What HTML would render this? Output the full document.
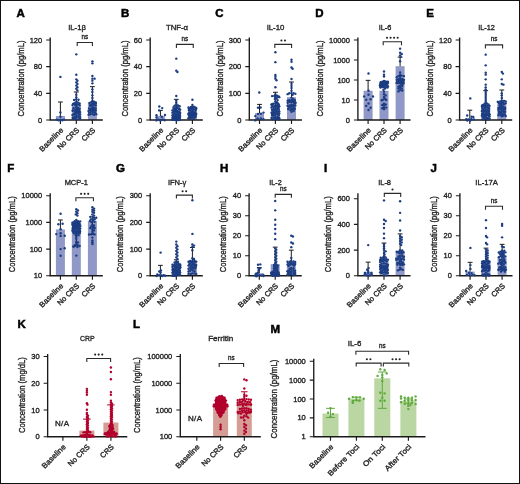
<!DOCTYPE html>
<html><head><meta charset="utf-8"><title>Cytokine levels</title>
<style>
html,body{margin:0;padding:0;background:#fff;}
body{width:520px;height:484px;overflow:hidden;}
svg{display:block;font-family:"Liberation Sans",sans-serif;will-change:transform;}
svg text{fill:#262626;}
svg .st{letter-spacing:-0.6px;}
svg text.lt{fill:#000;stroke:#000;stroke-width:0.5px;}
svg text{stroke:#262626;stroke-width:0.36px;}
</style></head><body>
<svg width="520" height="484" viewBox="0 0 520 484">
<rect x="0.5" y="0.5" width="519" height="483" fill="#fff" stroke="#111" stroke-width="1"/>
<text x="16.4" y="16.6" font-size="11.5" text-anchor="start" font-weight="bold" fill="#000" class="lt">A</text>
<text x="77.03" y="29.5" font-size="8" text-anchor="middle" textLength="17.65" lengthAdjust="spacingAndGlyphs">IL-1β</text>
<rect x="55.9" y="116" width="9" height="4" fill="#8f98c6"/>
<rect x="71.8" y="106" width="9" height="14" fill="#8f98c6"/>
<rect x="87.9" y="102.33" width="9" height="17.67" fill="#8f98c6"/>
<path d="M50.2 37.5V120H102.8" stroke="#1a1a1a" stroke-width="1.35" fill="none"/>
<path d="M46.2 120H50.2M46.2 93.33H50.2M46.2 66.67H50.2M46.2 40H50.2M60.4 120V124M76.3 120V124M92.4 120V124" stroke="#1a1a1a" stroke-width="1.15" fill="none"/>
<text x="42.2" y="122.6" font-size="7.5" text-anchor="end" class="tk">0</text>
<text x="42.2" y="95.93" font-size="7.5" text-anchor="end" class="tk">40</text>
<text x="42.2" y="69.27" font-size="7.5" text-anchor="end" class="tk">80</text>
<text x="42.2" y="42.6" font-size="7.5" text-anchor="end" class="tk">120</text>
<path d="M60.4 116V102M58 102h4.8" stroke="#1a1a1a" stroke-width="1" fill="none"/>
<path d="M76.3 106V92M73.9 92h4.8" stroke="#1a1a1a" stroke-width="1" fill="none"/>
<path d="M92.4 102.33V86.67M90 86.67h4.8" stroke="#1a1a1a" stroke-width="1" fill="none"/>
<g fill="#1c3d82">
<circle cx="76.3" cy="54.33" r="1.2"/>
<circle cx="76.3" cy="74.8" r="1.2"/>
<circle cx="76.3" cy="79.33" r="1.2"/>
<circle cx="77.4" cy="80.8" r="1.2"/>
<circle cx="76.3" cy="82.4" r="1.2"/>
<circle cx="77.4" cy="84" r="1.2"/>
<circle cx="76.3" cy="85.6" r="1.2"/>
<circle cx="77.4" cy="87.2" r="1.2"/>
<circle cx="76.3" cy="88.8" r="1.2"/>
<circle cx="77.4" cy="90.4" r="1.2"/>
<circle cx="76.3" cy="94.67" r="1.2"/>
<circle cx="76.3" cy="97.33" r="1.2"/>
<circle cx="76.3" cy="99.41" r="1.2"/>
<circle cx="78.5" cy="99.71" r="1.2"/>
<circle cx="74.1" cy="99.92" r="1.2"/>
<circle cx="76.3" cy="101.88" r="1.2"/>
<circle cx="77.95" cy="102.56" r="1.2"/>
<circle cx="74.65" cy="102.84" r="1.2"/>
<circle cx="79.6" cy="103.46" r="1.2"/>
<circle cx="76.3" cy="103.94" r="1.2"/>
<circle cx="73" cy="104.02" r="1.2"/>
<circle cx="74.41" cy="104.13" r="1.2"/>
<circle cx="77.95" cy="104.57" r="1.2"/>
<circle cx="72.51" cy="105.09" r="1.2"/>
<circle cx="79.6" cy="105.21" r="1.2"/>
<circle cx="75.31" cy="105.27" r="1.2"/>
<circle cx="76.62" cy="106.05" r="1.2"/>
<circle cx="75.75" cy="107.64" r="1.2"/>
<circle cx="77.95" cy="107.98" r="1.2"/>
<circle cx="73.55" cy="108.13" r="1.2"/>
<circle cx="79.6" cy="108.68" r="1.2"/>
<circle cx="76.78" cy="109.08" r="1.2"/>
<circle cx="77.47" cy="109.16" r="1.2"/>
<circle cx="75.2" cy="110.08" r="1.2"/>
<circle cx="79.05" cy="110.37" r="1.2"/>
<circle cx="73" cy="110.42" r="1.2"/>
<circle cx="72.65" cy="110.75" r="1.2"/>
<circle cx="76.85" cy="110.9" r="1.2"/>
<circle cx="78.4" cy="111.01" r="1.2"/>
<circle cx="77.08" cy="111.18" r="1.2"/>
<circle cx="75.2" cy="111.9" r="1.2"/>
<circle cx="80.15" cy="112.12" r="1.2"/>
<circle cx="79.2" cy="112.19" r="1.2"/>
<circle cx="77.23" cy="112.21" r="1.2"/>
<circle cx="76.3" cy="113.67" r="1.2"/>
<circle cx="78.5" cy="113.87" r="1.2"/>
<circle cx="74.1" cy="114.01" r="1.2"/>
<circle cx="74.1" cy="114.01" r="1.2"/>
<circle cx="74.6" cy="114.03" r="1.2"/>
<circle cx="74.02" cy="114.1" r="1.2"/>
<circle cx="80.15" cy="114.57" r="1.2"/>
<circle cx="72.45" cy="115" r="1.2"/>
<circle cx="76.3" cy="115.74" r="1.2"/>
<circle cx="78.5" cy="115.82" r="1.2"/>
<circle cx="74.65" cy="116.75" r="1.2"/>
<circle cx="80.15" cy="116.94" r="1.2"/>
<circle cx="76.3" cy="117.55" r="1.2"/>
<circle cx="78.5" cy="117.55" r="1.2"/>
<circle cx="73" cy="117.8" r="1.2"/>
<circle cx="72.75" cy="118.06" r="1.2"/>
<circle cx="74.65" cy="118.58" r="1.2"/>
<circle cx="74.19" cy="118.6" r="1.2"/>
<circle cx="80.15" cy="118.76" r="1.2"/>
<circle cx="76.3" cy="119.33" r="1.2"/>
<circle cx="92.4" cy="61.33" r="1.2"/>
<circle cx="92.4" cy="63.33" r="1.2"/>
<circle cx="92.4" cy="76" r="1.2"/>
<circle cx="92.4" cy="78.67" r="1.2"/>
<circle cx="94.6" cy="78.67" r="1.2"/>
<circle cx="92.4" cy="80.67" r="1.2"/>
<circle cx="92.4" cy="83.33" r="1.2"/>
<circle cx="92.4" cy="89.33" r="1.2"/>
<circle cx="92.4" cy="92" r="1.2"/>
<circle cx="92.4" cy="95.33" r="1.2"/>
<circle cx="92.4" cy="98" r="1.2"/>
<circle cx="92.4" cy="100.67" r="1.2"/>
<circle cx="94.05" cy="101.73" r="1.2"/>
<circle cx="91.3" cy="102.12" r="1.2"/>
<circle cx="95.7" cy="102.35" r="1.2"/>
<circle cx="89.65" cy="103.03" r="1.2"/>
<circle cx="92.95" cy="103.2" r="1.2"/>
<circle cx="95.79" cy="103.4" r="1.2"/>
<circle cx="94.19" cy="103.68" r="1.2"/>
<circle cx="91.85" cy="104.57" r="1.2"/>
<circle cx="90.2" cy="105.24" r="1.2"/>
<circle cx="93.5" cy="105.31" r="1.2"/>
<circle cx="95.7" cy="105.46" r="1.2"/>
<circle cx="90.33" cy="105.73" r="1.2"/>
<circle cx="92.4" cy="107.02" r="1.2"/>
<circle cx="94.05" cy="107.93" r="1.2"/>
<circle cx="91.3" cy="108.43" r="1.2"/>
<circle cx="95.7" cy="108.53" r="1.2"/>
<circle cx="89.1" cy="108.56" r="1.2"/>
<circle cx="92.77" cy="108.61" r="1.2"/>
<circle cx="92.06" cy="109.64" r="1.2"/>
<circle cx="94.05" cy="109.89" r="1.2"/>
<circle cx="90.2" cy="109.9" r="1.2"/>
<circle cx="91.95" cy="110.16" r="1.2"/>
<circle cx="95.7" cy="110.46" r="1.2"/>
<circle cx="88.55" cy="110.93" r="1.2"/>
<circle cx="92.95" cy="111.73" r="1.2"/>
<circle cx="90.75" cy="112.07" r="1.2"/>
<circle cx="94.6" cy="112.37" r="1.2"/>
<circle cx="89.1" cy="112.65" r="1.2"/>
<circle cx="95.21" cy="112.67" r="1.2"/>
<circle cx="92.4" cy="114.05" r="1.2"/>
<circle cx="90.2" cy="114.24" r="1.2"/>
<circle cx="96.25" cy="114.29" r="1.2"/>
<circle cx="94.05" cy="114.78" r="1.2"/>
<circle cx="88.55" cy="114.83" r="1.2"/>
<circle cx="60.4" cy="76.9" r="1.2"/>
<circle cx="60.4" cy="112.4" r="1.2"/>
<circle cx="60.4" cy="116.8" r="1.2"/>
<circle cx="56.8" cy="119.8" r="1.2"/>
<circle cx="58.6" cy="120.2" r="1.2"/>
<circle cx="60.4" cy="120" r="1.2"/>
<circle cx="62.3" cy="120.2" r="1.2"/>
<circle cx="64.2" cy="119.8" r="1.2"/>
</g>
<text x="23.7" y="78.5" font-size="9.5" text-anchor="middle" textLength="76" lengthAdjust="spacingAndGlyphs" transform="rotate(-90 23.7 78.5)">Concentration (pg/mL)</text>
<text x="63.8" y="130.6" font-size="7.5" text-anchor="end" textLength="30.6" lengthAdjust="spacingAndGlyphs" transform="rotate(-45 63.8 130.6)">Baseline</text>
<text x="79.7" y="130.6" font-size="7.5" text-anchor="end" transform="rotate(-45 79.7 130.6)">No CRS</text>
<text x="95.8" y="130.6" font-size="7.5" text-anchor="end" transform="rotate(-45 95.8 130.6)">CRS</text>
<path d="M77.2 46V42.5H92.4V46" stroke="#2a2a2a" stroke-width="1.1" fill="none"/>
<text x="84.8" y="38.7" font-size="6.9" text-anchor="middle" textLength="6.6" lengthAdjust="spacingAndGlyphs">ns</text>
<text x="121.1" y="16.6" font-size="11.5" text-anchor="start" font-weight="bold" fill="#000" class="lt">B</text>
<text x="177" y="29.6" font-size="8" text-anchor="middle" textLength="22.2" lengthAdjust="spacingAndGlyphs">TNF-α</text>
<rect x="155.9" y="116" width="9" height="4" fill="#8f98c6"/>
<rect x="171.8" y="110.67" width="9" height="9.33" fill="#8f98c6"/>
<rect x="187.9" y="112" width="9" height="8" fill="#8f98c6"/>
<path d="M150.2 37.5V120H202.8" stroke="#1a1a1a" stroke-width="1.35" fill="none"/>
<path d="M146.2 120H150.2M146.2 93.33H150.2M146.2 66.67H150.2M146.2 40H150.2M160.4 120V124M176.3 120V124M192.4 120V124" stroke="#1a1a1a" stroke-width="1.15" fill="none"/>
<text x="142.2" y="122.6" font-size="7.5" text-anchor="end" class="tk">0</text>
<text x="142.2" y="95.93" font-size="7.5" text-anchor="end" class="tk">20</text>
<text x="142.2" y="69.27" font-size="7.5" text-anchor="end" class="tk">40</text>
<text x="142.2" y="42.6" font-size="7.5" text-anchor="end" class="tk">60</text>
<path d="M160.4 116V110.4M158 110.4h4.8" stroke="#1a1a1a" stroke-width="1" fill="none"/>
<path d="M176.3 110.67V99.33M173.9 99.33h4.8" stroke="#1a1a1a" stroke-width="1" fill="none"/>
<path d="M192.4 112V106.67M190 106.67h4.8" stroke="#1a1a1a" stroke-width="1" fill="none"/>
<g fill="#1c3d82">
<circle cx="176.3" cy="58.67" r="1.2"/>
<circle cx="176.3" cy="70.67" r="1.2"/>
<circle cx="177.4" cy="72" r="1.2"/>
<circle cx="176.3" cy="96" r="1.2"/>
<circle cx="176.3" cy="100.67" r="1.2"/>
<circle cx="176.3" cy="102.67" r="1.2"/>
<circle cx="176.3" cy="104.4" r="1.2"/>
<circle cx="177.95" cy="105.57" r="1.2"/>
<circle cx="174.65" cy="105.59" r="1.2"/>
<circle cx="176.3" cy="106.14" r="1.2"/>
<circle cx="179.6" cy="106.26" r="1.2"/>
<circle cx="173.55" cy="107.08" r="1.2"/>
<circle cx="177.4" cy="107.78" r="1.2"/>
<circle cx="175.2" cy="108.15" r="1.2"/>
<circle cx="179.05" cy="108.37" r="1.2"/>
<circle cx="173.55" cy="108.81" r="1.2"/>
<circle cx="175.13" cy="108.93" r="1.2"/>
<circle cx="178.49" cy="109.1" r="1.2"/>
<circle cx="175.59" cy="109.48" r="1.2"/>
<circle cx="180.15" cy="109.79" r="1.2"/>
<circle cx="175.45" cy="109.98" r="1.2"/>
<circle cx="172.45" cy="110.37" r="1.2"/>
<circle cx="177.4" cy="110.86" r="1.2"/>
<circle cx="176.04" cy="110.96" r="1.2"/>
<circle cx="174.1" cy="111.09" r="1.2"/>
<circle cx="176.45" cy="111.28" r="1.2"/>
<circle cx="179.05" cy="111.64" r="1.2"/>
<circle cx="174.12" cy="111.82" r="1.2"/>
<circle cx="176.44" cy="112" r="1.2"/>
<circle cx="172.45" cy="112.64" r="1.2"/>
<circle cx="177.57" cy="112.83" r="1.2"/>
<circle cx="180.15" cy="113.01" r="1.2"/>
<circle cx="175.2" cy="113.41" r="1.2"/>
<circle cx="179.59" cy="113.72" r="1.2"/>
<circle cx="173.55" cy="114.09" r="1.2"/>
<circle cx="178.32" cy="114.11" r="1.2"/>
<circle cx="176.14" cy="114.48" r="1.2"/>
<circle cx="178.13" cy="114.93" r="1.2"/>
<circle cx="176" cy="115" r="1.2"/>
<circle cx="179.84" cy="115.32" r="1.2"/>
<circle cx="172.45" cy="115.57" r="1.2"/>
<circle cx="179.49" cy="115.61" r="1.2"/>
<circle cx="175.38" cy="115.95" r="1.2"/>
<circle cx="174.62" cy="115.95" r="1.2"/>
<circle cx="174.06" cy="116.14" r="1.2"/>
<circle cx="173.3" cy="116.42" r="1.2"/>
<circle cx="178.32" cy="116.48" r="1.2"/>
<circle cx="176.06" cy="116.61" r="1.2"/>
<circle cx="180.08" cy="116.63" r="1.2"/>
<circle cx="177.6" cy="116.64" r="1.2"/>
<circle cx="177.05" cy="117.1" r="1.2"/>
<circle cx="179.8" cy="117.63" r="1.2"/>
<circle cx="174.65" cy="117.84" r="1.2"/>
<circle cx="172.45" cy="117.94" r="1.2"/>
<circle cx="175.87" cy="118.12" r="1.2"/>
<circle cx="175.43" cy="118.5" r="1.2"/>
<circle cx="179.04" cy="118.56" r="1.2"/>
<circle cx="178.58" cy="118.6" r="1.2"/>
<circle cx="173.93" cy="118.8" r="1.2"/>
<circle cx="179.23" cy="118.84" r="1.2"/>
<circle cx="177.87" cy="118.85" r="1.2"/>
<circle cx="175.35" cy="118.87" r="1.2"/>
<circle cx="177.38" cy="118.93" r="1.2"/>
<circle cx="175.72" cy="119.08" r="1.2"/>
<circle cx="177.77" cy="119.08" r="1.2"/>
<circle cx="179.21" cy="119.1" r="1.2"/>
<circle cx="174.73" cy="119.45" r="1.2"/>
<circle cx="172.67" cy="119.48" r="1.2"/>
<circle cx="173.11" cy="119.52" r="1.2"/>
<circle cx="177.93" cy="119.64" r="1.2"/>
<circle cx="173.3" cy="119.82" r="1.2"/>
<circle cx="179.08" cy="119.83" r="1.2"/>
<circle cx="174.37" cy="119.87" r="1.2"/>
<circle cx="177.8" cy="119.87" r="1.2"/>
<circle cx="178.93" cy="119.88" r="1.2"/>
<circle cx="172.82" cy="119.88" r="1.2"/>
<circle cx="176.42" cy="119.9" r="1.2"/>
<circle cx="180.1" cy="119.9" r="1.2"/>
<circle cx="176.13" cy="119.92" r="1.2"/>
<circle cx="175.57" cy="119.93" r="1.2"/>
<circle cx="178.86" cy="119.93" r="1.2"/>
<circle cx="177.57" cy="119.99" r="1.2"/>
<circle cx="192.4" cy="99.73" r="1.2"/>
<circle cx="192.4" cy="104.93" r="1.2"/>
<circle cx="192.4" cy="106.71" r="1.2"/>
<circle cx="194.6" cy="107.06" r="1.2"/>
<circle cx="190.75" cy="107.35" r="1.2"/>
<circle cx="188.55" cy="107.57" r="1.2"/>
<circle cx="196.25" cy="107.89" r="1.2"/>
<circle cx="193.02" cy="108.12" r="1.2"/>
<circle cx="193.13" cy="108.18" r="1.2"/>
<circle cx="190.15" cy="108.26" r="1.2"/>
<circle cx="191.07" cy="108.68" r="1.2"/>
<circle cx="195.81" cy="108.78" r="1.2"/>
<circle cx="195.83" cy="108.83" r="1.2"/>
<circle cx="188.86" cy="108.91" r="1.2"/>
<circle cx="196.14" cy="109.01" r="1.2"/>
<circle cx="189.91" cy="109.47" r="1.2"/>
<circle cx="194.05" cy="109.66" r="1.2"/>
<circle cx="190.44" cy="109.68" r="1.2"/>
<circle cx="189.25" cy="109.79" r="1.2"/>
<circle cx="192.54" cy="109.81" r="1.2"/>
<circle cx="189.33" cy="110.29" r="1.2"/>
<circle cx="190.33" cy="110.34" r="1.2"/>
<circle cx="188.96" cy="110.54" r="1.2"/>
<circle cx="195.7" cy="110.83" r="1.2"/>
<circle cx="192.4" cy="111.68" r="1.2"/>
<circle cx="193.4" cy="111.68" r="1.2"/>
<circle cx="191.28" cy="111.95" r="1.2"/>
<circle cx="195.15" cy="112.5" r="1.2"/>
<circle cx="189.65" cy="112.6" r="1.2"/>
<circle cx="194.48" cy="112.97" r="1.2"/>
<circle cx="190.07" cy="113.29" r="1.2"/>
<circle cx="192.4" cy="113.42" r="1.2"/>
<circle cx="194.11" cy="113.75" r="1.2"/>
<circle cx="188.41" cy="113.81" r="1.2"/>
<circle cx="196.25" cy="113.9" r="1.2"/>
<circle cx="195.66" cy="114.03" r="1.2"/>
<circle cx="195.02" cy="114.1" r="1.2"/>
<circle cx="190.02" cy="114.39" r="1.2"/>
<circle cx="191.63" cy="114.43" r="1.2"/>
<circle cx="189.24" cy="114.54" r="1.2"/>
<circle cx="193.39" cy="114.59" r="1.2"/>
<circle cx="190.25" cy="114.63" r="1.2"/>
<circle cx="188.64" cy="114.67" r="1.2"/>
<circle cx="192.35" cy="115.06" r="1.2"/>
<circle cx="191.38" cy="115.13" r="1.2"/>
<circle cx="193.91" cy="115.37" r="1.2"/>
<circle cx="191.06" cy="115.46" r="1.2"/>
<circle cx="195.7" cy="116.07" r="1.2"/>
<circle cx="194.97" cy="116.31" r="1.2"/>
<circle cx="189.65" cy="116.5" r="1.2"/>
<circle cx="192.4" cy="116.88" r="1.2"/>
<circle cx="189.68" cy="117.01" r="1.2"/>
<circle cx="195.08" cy="117.15" r="1.2"/>
<circle cx="190.37" cy="117.6" r="1.2"/>
<circle cx="190.97" cy="117.84" r="1.2"/>
<circle cx="193.5" cy="118.22" r="1.2"/>
<circle cx="188.48" cy="118.29" r="1.2"/>
<circle cx="159.3" cy="106.5" r="1.2"/>
<circle cx="162.2" cy="108.1" r="1.2"/>
<circle cx="159.2" cy="110.4" r="1.2"/>
<circle cx="156.5" cy="115.2" r="1.2"/>
<circle cx="165" cy="115" r="1.2"/>
<circle cx="156.5" cy="117.5" r="1.2"/>
<circle cx="161.8" cy="116.8" r="1.2"/>
<circle cx="156.5" cy="120.4" r="1.2"/>
<circle cx="160.4" cy="120.4" r="1.2"/>
<circle cx="164.7" cy="120.2" r="1.2"/>
<circle cx="158.4" cy="119.6" r="1.2"/>
<circle cx="162.5" cy="119.6" r="1.2"/>
</g>
<text x="127.5" y="78.5" font-size="9.5" text-anchor="middle" textLength="76" lengthAdjust="spacingAndGlyphs" transform="rotate(-90 127.5 78.5)">Concentration (pg/mL)</text>
<text x="163.8" y="130.6" font-size="7.5" text-anchor="end" textLength="30.6" lengthAdjust="spacingAndGlyphs" transform="rotate(-45 163.8 130.6)">Baseline</text>
<text x="179.7" y="130.6" font-size="7.5" text-anchor="end" transform="rotate(-45 179.7 130.6)">No CRS</text>
<text x="195.8" y="130.6" font-size="7.5" text-anchor="end" transform="rotate(-45 195.8 130.6)">CRS</text>
<path d="M176.4 47.9V44.4H193.25V47.9" stroke="#2a2a2a" stroke-width="1.1" fill="none"/>
<text x="184.82" y="40.6" font-size="6.9" text-anchor="middle" textLength="6.6" lengthAdjust="spacingAndGlyphs">ns</text>
<text x="215.2" y="16.6" font-size="11.5" text-anchor="start" font-weight="bold" fill="#000" class="lt">C</text>
<text x="275.5" y="29.5" font-size="8" text-anchor="middle" textLength="17.7" lengthAdjust="spacingAndGlyphs">IL-10</text>
<rect x="255" y="113.2" width="9" height="6.8" fill="#8f98c6"/>
<rect x="270.9" y="105.2" width="9" height="14.8" fill="#8f98c6"/>
<rect x="287" y="97.2" width="9" height="22.8" fill="#8f98c6"/>
<path d="M249.3 37.5V120H301.9" stroke="#1a1a1a" stroke-width="1.35" fill="none"/>
<path d="M245.3 120H249.3M245.3 93.33H249.3M245.3 66.67H249.3M245.3 40H249.3M259.5 120V124M275.4 120V124M291.5 120V124" stroke="#1a1a1a" stroke-width="1.15" fill="none"/>
<text x="241.3" y="122.6" font-size="7.5" text-anchor="end" class="tk">0</text>
<text x="241.3" y="95.93" font-size="7.5" text-anchor="end" class="tk">100</text>
<text x="241.3" y="69.27" font-size="7.5" text-anchor="end" class="tk">200</text>
<text x="241.3" y="42.6" font-size="7.5" text-anchor="end" class="tk">300</text>
<path d="M259.5 113.2V104.4M257.1 104.4h4.8" stroke="#1a1a1a" stroke-width="1" fill="none"/>
<path d="M275.4 105.2V92.27M273 92.27h4.8" stroke="#1a1a1a" stroke-width="1" fill="none"/>
<path d="M291.5 97.2V82M289.1 82h4.8" stroke="#1a1a1a" stroke-width="1" fill="none"/>
<g fill="#1c3d82">
<circle cx="275.4" cy="52.27" r="1.2"/>
<circle cx="275.4" cy="62.13" r="1.2"/>
<circle cx="275.4" cy="74.93" r="1.2"/>
<circle cx="275.4" cy="76.8" r="1.2"/>
<circle cx="275.4" cy="78.67" r="1.2"/>
<circle cx="276.5" cy="80.27" r="1.2"/>
<circle cx="275.4" cy="87.2" r="1.2"/>
<circle cx="275.4" cy="94.4" r="1.2"/>
<circle cx="277.05" cy="95.58" r="1.2"/>
<circle cx="274.3" cy="96.02" r="1.2"/>
<circle cx="272.1" cy="96.09" r="1.2"/>
<circle cx="278.7" cy="96.55" r="1.2"/>
<circle cx="277.46" cy="96.91" r="1.2"/>
<circle cx="275.42" cy="97.16" r="1.2"/>
<circle cx="279.25" cy="97.17" r="1.2"/>
<circle cx="276.5" cy="98.57" r="1.2"/>
<circle cx="274.85" cy="99.1" r="1.2"/>
<circle cx="277.6" cy="100.11" r="1.2"/>
<circle cx="275.4" cy="101.52" r="1.2"/>
<circle cx="277.05" cy="102.13" r="1.2"/>
<circle cx="275.4" cy="103.42" r="1.2"/>
<circle cx="273.2" cy="103.75" r="1.2"/>
<circle cx="277.6" cy="103.79" r="1.2"/>
<circle cx="277.37" cy="103.82" r="1.2"/>
<circle cx="278.24" cy="103.87" r="1.2"/>
<circle cx="271.55" cy="104.35" r="1.2"/>
<circle cx="272.23" cy="104.55" r="1.2"/>
<circle cx="278.04" cy="104.55" r="1.2"/>
<circle cx="278.66" cy="104.58" r="1.2"/>
<circle cx="271.72" cy="104.79" r="1.2"/>
<circle cx="275.4" cy="105.27" r="1.2"/>
<circle cx="272.29" cy="105.68" r="1.2"/>
<circle cx="277.05" cy="106.21" r="1.2"/>
<circle cx="279.25" cy="106.32" r="1.2"/>
<circle cx="275.45" cy="106.32" r="1.2"/>
<circle cx="278.05" cy="106.36" r="1.2"/>
<circle cx="273.75" cy="106.76" r="1.2"/>
<circle cx="277.49" cy="106.93" r="1.2"/>
<circle cx="271.55" cy="107.38" r="1.2"/>
<circle cx="278.48" cy="107.52" r="1.2"/>
<circle cx="275.4" cy="108.09" r="1.2"/>
<circle cx="277.05" cy="108.85" r="1.2"/>
<circle cx="273.75" cy="109.14" r="1.2"/>
<circle cx="278.7" cy="109.55" r="1.2"/>
<circle cx="272.1" cy="109.79" r="1.2"/>
<circle cx="275.4" cy="110.3" r="1.2"/>
<circle cx="275.05" cy="110.54" r="1.2"/>
<circle cx="277.05" cy="111.29" r="1.2"/>
<circle cx="273.2" cy="111.46" r="1.2"/>
<circle cx="279.25" cy="111.49" r="1.2"/>
<circle cx="275.4" cy="112.68" r="1.2"/>
<circle cx="271.55" cy="112.71" r="1.2"/>
<circle cx="274.11" cy="112.78" r="1.2"/>
<circle cx="277.6" cy="112.96" r="1.2"/>
<circle cx="272.77" cy="113.34" r="1.2"/>
<circle cx="279.25" cy="113.52" r="1.2"/>
<circle cx="277.16" cy="113.89" r="1.2"/>
<circle cx="275.4" cy="114.74" r="1.2"/>
<circle cx="272.1" cy="114.99" r="1.2"/>
<circle cx="278.74" cy="115.14" r="1.2"/>
<circle cx="273.23" cy="115.2" r="1.2"/>
<circle cx="272.46" cy="115.2" r="1.2"/>
<circle cx="273.55" cy="115.25" r="1.2"/>
<circle cx="275.4" cy="116.93" r="1.2"/>
<circle cx="277.6" cy="117" r="1.2"/>
<circle cx="273.75" cy="117.78" r="1.2"/>
<circle cx="279.25" cy="117.88" r="1.2"/>
<circle cx="271.55" cy="118.06" r="1.2"/>
<circle cx="277.75" cy="118.09" r="1.2"/>
<circle cx="278.31" cy="118.2" r="1.2"/>
<circle cx="279.09" cy="118.47" r="1.2"/>
<circle cx="275.4" cy="118.78" r="1.2"/>
<circle cx="276.27" cy="118.95" r="1.2"/>
<circle cx="272.65" cy="119.4" r="1.2"/>
<circle cx="279.36" cy="119.69" r="1.2"/>
<circle cx="291.5" cy="59.73" r="1.2"/>
<circle cx="291.5" cy="61.87" r="1.2"/>
<circle cx="291.5" cy="67.47" r="1.2"/>
<circle cx="292.6" cy="68.8" r="1.2"/>
<circle cx="291.5" cy="78.93" r="1.2"/>
<circle cx="291.5" cy="83.73" r="1.2"/>
<circle cx="291.5" cy="85.87" r="1.2"/>
<circle cx="291.5" cy="88" r="1.2"/>
<circle cx="291.5" cy="90.67" r="1.2"/>
<circle cx="291.5" cy="93.08" r="1.2"/>
<circle cx="293.7" cy="93.1" r="1.2"/>
<circle cx="289.3" cy="93.18" r="1.2"/>
<circle cx="295.35" cy="93.85" r="1.2"/>
<circle cx="287.65" cy="94.13" r="1.2"/>
<circle cx="292.6" cy="94.68" r="1.2"/>
<circle cx="291.5" cy="97.64" r="1.2"/>
<circle cx="293.15" cy="98.9" r="1.2"/>
<circle cx="291.5" cy="100.09" r="1.2"/>
<circle cx="289.3" cy="100.14" r="1.2"/>
<circle cx="294.8" cy="100.17" r="1.2"/>
<circle cx="292.9" cy="100.35" r="1.2"/>
<circle cx="287.65" cy="100.77" r="1.2"/>
<circle cx="289.79" cy="101.13" r="1.2"/>
<circle cx="293.33" cy="101.42" r="1.2"/>
<circle cx="293.56" cy="101.69" r="1.2"/>
<circle cx="289.37" cy="101.77" r="1.2"/>
<circle cx="291.5" cy="102.19" r="1.2"/>
<circle cx="295.35" cy="102.44" r="1.2"/>
<circle cx="287.65" cy="102.86" r="1.2"/>
<circle cx="294.32" cy="102.99" r="1.2"/>
<circle cx="295.44" cy="103.04" r="1.2"/>
<circle cx="291.5" cy="104.78" r="1.2"/>
<circle cx="293.7" cy="104.94" r="1.2"/>
<circle cx="289.85" cy="105.39" r="1.2"/>
<circle cx="295.35" cy="105.53" r="1.2"/>
<circle cx="287.65" cy="105.65" r="1.2"/>
<circle cx="287.93" cy="105.95" r="1.2"/>
<circle cx="291.98" cy="106.05" r="1.2"/>
<circle cx="290.77" cy="106.66" r="1.2"/>
<circle cx="293.7" cy="107.18" r="1.2"/>
<circle cx="289.3" cy="107.58" r="1.2"/>
<circle cx="291.5" cy="108.72" r="1.2"/>
<circle cx="294.8" cy="108.77" r="1.2"/>
<circle cx="288.2" cy="108.99" r="1.2"/>
<circle cx="293.15" cy="109.41" r="1.2"/>
<circle cx="292.46" cy="109.5" r="1.2"/>
<circle cx="290.4" cy="110.07" r="1.2"/>
<circle cx="293.7" cy="111.12" r="1.2"/>
<circle cx="291.5" cy="111.68" r="1.2"/>
<circle cx="259.3" cy="92.5" r="1.2"/>
<circle cx="258" cy="107.7" r="1.2"/>
<circle cx="260.6" cy="107.5" r="1.2"/>
<circle cx="263.5" cy="112.6" r="1.2"/>
<circle cx="258" cy="113.9" r="1.2"/>
<circle cx="260.9" cy="113.7" r="1.2"/>
<circle cx="255.3" cy="116.1" r="1.2"/>
<circle cx="257.6" cy="118.5" r="1.2"/>
<circle cx="260.9" cy="118.5" r="1.2"/>
<circle cx="255.3" cy="120.4" r="1.2"/>
<circle cx="263.5" cy="119.3" r="1.2"/>
</g>
<text x="223.25" y="78.5" font-size="9.5" text-anchor="middle" textLength="76" lengthAdjust="spacingAndGlyphs" transform="rotate(-90 223.25 78.5)">Concentration (pg/mL)</text>
<text x="262.9" y="130.6" font-size="7.5" text-anchor="end" textLength="30.6" lengthAdjust="spacingAndGlyphs" transform="rotate(-45 262.9 130.6)">Baseline</text>
<text x="278.8" y="130.6" font-size="7.5" text-anchor="end" transform="rotate(-45 278.8 130.6)">No CRS</text>
<text x="294.9" y="130.6" font-size="7.5" text-anchor="end" transform="rotate(-45 294.9 130.6)">CRS</text>
<path d="M274.8 47.9V44.4H291.6V47.9" stroke="#2a2a2a" stroke-width="1.1" fill="none"/>
<circle cx="281.43" cy="40.5" r="1.05" fill="#222"/>
<circle cx="284.98" cy="40.5" r="1.05" fill="#222"/>
<text x="315.2" y="16.6" font-size="11.5" text-anchor="start" font-weight="bold" fill="#000" class="lt">D</text>
<text x="385" y="29.5" font-size="8" text-anchor="middle" textLength="12.7" lengthAdjust="spacingAndGlyphs">IL-6</text>
<rect x="363.6" y="90.75" width="9" height="29.25" fill="#8f98c6"/>
<rect x="379.5" y="90.75" width="9" height="29.25" fill="#8f98c6"/>
<rect x="395.6" y="66.2" width="9" height="53.8" fill="#8f98c6"/>
<path d="M357.9 37.5V120H410.5" stroke="#1a1a1a" stroke-width="1.35" fill="none"/>
<path d="M353.9 120H357.9M353.9 100H357.9M353.9 80H357.9M353.9 60H357.9M353.9 40H357.9M368.1 120V124M384 120V124M400.1 120V124" stroke="#1a1a1a" stroke-width="1.15" fill="none"/>
<text x="349.9" y="122.6" font-size="7.5" text-anchor="end" class="tk">0</text>
<text x="349.9" y="102.6" font-size="7.5" text-anchor="end" class="tk">10</text>
<text x="349.9" y="82.6" font-size="7.5" text-anchor="end" class="tk">100</text>
<text x="349.9" y="62.6" font-size="7.5" text-anchor="end" class="tk">1000</text>
<text x="349.9" y="42.6" font-size="7.5" text-anchor="end" class="tk">10000</text>
<path d="M368.1 90.75V80.35M365.7 80.35h4.8" stroke="#1a1a1a" stroke-width="1" fill="none"/>
<path d="M400.1 66.2V57.08M397.7 57.08h4.8" stroke="#1a1a1a" stroke-width="1" fill="none"/>
<g fill="#1c3d82">
<circle cx="384" cy="71.44" r="1.2"/>
<circle cx="384" cy="74.7" r="1.2"/>
<circle cx="384" cy="76.48" r="1.2"/>
<circle cx="384" cy="80.83" r="1.2"/>
<circle cx="385.65" cy="81.52" r="1.2"/>
<circle cx="382.35" cy="81.58" r="1.2"/>
<circle cx="387.85" cy="81.72" r="1.2"/>
<circle cx="380.7" cy="82.21" r="1.2"/>
<circle cx="386.36" cy="82.33" r="1.2"/>
<circle cx="385.63" cy="82.33" r="1.2"/>
<circle cx="386.28" cy="82.33" r="1.2"/>
<circle cx="384.98" cy="82.43" r="1.2"/>
<circle cx="383.02" cy="82.51" r="1.2"/>
<circle cx="387.5" cy="82.54" r="1.2"/>
<circle cx="388" cy="82.74" r="1.2"/>
<circle cx="386.04" cy="82.75" r="1.2"/>
<circle cx="386.4" cy="83.01" r="1.2"/>
<circle cx="383.46" cy="83.1" r="1.2"/>
<circle cx="383.86" cy="83.14" r="1.2"/>
<circle cx="381.94" cy="83.22" r="1.2"/>
<circle cx="380.6" cy="83.43" r="1.2"/>
<circle cx="386.24" cy="83.48" r="1.2"/>
<circle cx="381.92" cy="83.51" r="1.2"/>
<circle cx="381.64" cy="83.65" r="1.2"/>
<circle cx="381.46" cy="83.77" r="1.2"/>
<circle cx="382.86" cy="83.84" r="1.2"/>
<circle cx="380.79" cy="83.95" r="1.2"/>
<circle cx="384.33" cy="83.97" r="1.2"/>
<circle cx="384.58" cy="84.04" r="1.2"/>
<circle cx="383.62" cy="84.39" r="1.2"/>
<circle cx="387.14" cy="84.45" r="1.2"/>
<circle cx="380.25" cy="84.58" r="1.2"/>
<circle cx="383.02" cy="84.67" r="1.2"/>
<circle cx="385.23" cy="84.73" r="1.2"/>
<circle cx="386.13" cy="85.07" r="1.2"/>
<circle cx="380.02" cy="85.22" r="1.2"/>
<circle cx="384.49" cy="85.26" r="1.2"/>
<circle cx="384.83" cy="85.35" r="1.2"/>
<circle cx="381.74" cy="85.37" r="1.2"/>
<circle cx="383.11" cy="85.37" r="1.2"/>
<circle cx="382.71" cy="85.48" r="1.2"/>
<circle cx="381.03" cy="85.53" r="1.2"/>
<circle cx="380.93" cy="85.91" r="1.2"/>
<circle cx="387.85" cy="86.2" r="1.2"/>
<circle cx="380.87" cy="86.24" r="1.2"/>
<circle cx="380.43" cy="86.67" r="1.2"/>
<circle cx="384" cy="86.93" r="1.2"/>
<circle cx="386.2" cy="86.98" r="1.2"/>
<circle cx="382.24" cy="87" r="1.2"/>
<circle cx="387.53" cy="87.43" r="1.2"/>
<circle cx="380.49" cy="87.53" r="1.2"/>
<circle cx="385.1" cy="88.55" r="1.2"/>
<circle cx="383.45" cy="89.74" r="1.2"/>
<circle cx="384" cy="91.67" r="1.2"/>
<circle cx="384" cy="94.16" r="1.2"/>
<circle cx="385.65" cy="95.41" r="1.2"/>
<circle cx="384" cy="97.07" r="1.2"/>
<circle cx="385.1" cy="98.66" r="1.2"/>
<circle cx="383.45" cy="99.45" r="1.2"/>
<circle cx="386.2" cy="100.04" r="1.2"/>
<circle cx="381.8" cy="100.2" r="1.2"/>
<circle cx="384" cy="103.71" r="1.2"/>
<circle cx="385.65" cy="104.47" r="1.2"/>
<circle cx="382.35" cy="104.94" r="1.2"/>
<circle cx="384" cy="105.47" r="1.2"/>
<circle cx="384" cy="107.42" r="1.2"/>
<circle cx="386.2" cy="107.59" r="1.2"/>
<circle cx="382.35" cy="108.16" r="1.2"/>
<circle cx="384" cy="109.17" r="1.2"/>
<circle cx="400.1" cy="48.64" r="1.2"/>
<circle cx="400.1" cy="52.77" r="1.2"/>
<circle cx="401.75" cy="53.98" r="1.2"/>
<circle cx="400.1" cy="55.39" r="1.2"/>
<circle cx="400.65" cy="57.08" r="1.2"/>
<circle cx="400.1" cy="61.21" r="1.2"/>
<circle cx="400.1" cy="72.53" r="1.2"/>
<circle cx="400.1" cy="74.95" r="1.2"/>
<circle cx="401.75" cy="75.6" r="1.2"/>
<circle cx="398.45" cy="76.08" r="1.2"/>
<circle cx="403.95" cy="76.09" r="1.2"/>
<circle cx="400.1" cy="76.85" r="1.2"/>
<circle cx="396.8" cy="77.14" r="1.2"/>
<circle cx="400.1" cy="78.74" r="1.2"/>
<circle cx="402.3" cy="79.06" r="1.2"/>
<circle cx="398.45" cy="79.27" r="1.2"/>
<circle cx="396.8" cy="79.81" r="1.2"/>
<circle cx="403.95" cy="79.84" r="1.2"/>
<circle cx="402.03" cy="79.95" r="1.2"/>
<circle cx="400.1" cy="80.52" r="1.2"/>
<circle cx="399.15" cy="80.71" r="1.2"/>
<circle cx="399.83" cy="81.04" r="1.2"/>
<circle cx="401.54" cy="81.19" r="1.2"/>
<circle cx="397.35" cy="81.62" r="1.2"/>
<circle cx="403.4" cy="81.62" r="1.2"/>
<circle cx="402.47" cy="81.64" r="1.2"/>
<circle cx="398.29" cy="81.71" r="1.2"/>
<circle cx="399.57" cy="81.82" r="1.2"/>
<circle cx="399.37" cy="81.83" r="1.2"/>
<circle cx="397.88" cy="82.05" r="1.2"/>
<circle cx="397.3" cy="82.28" r="1.2"/>
<circle cx="401.2" cy="82.92" r="1.2"/>
<circle cx="396.45" cy="83.12" r="1.2"/>
<circle cx="403.55" cy="83.15" r="1.2"/>
<circle cx="398.67" cy="83.17" r="1.2"/>
<circle cx="400.74" cy="83.41" r="1.2"/>
<circle cx="402.52" cy="83.43" r="1.2"/>
<circle cx="402.39" cy="84.04" r="1.2"/>
<circle cx="401.49" cy="84.08" r="1.2"/>
<circle cx="400.1" cy="85.83" r="1.2"/>
<circle cx="402.3" cy="85.9" r="1.2"/>
<circle cx="398.45" cy="86.59" r="1.2"/>
<circle cx="400.1" cy="87.57" r="1.2"/>
<circle cx="401.75" cy="88.33" r="1.2"/>
<circle cx="398.45" cy="88.46" r="1.2"/>
<circle cx="400.1" cy="90.08" r="1.2"/>
<circle cx="402.3" cy="90.57" r="1.2"/>
<circle cx="398.45" cy="91.38" r="1.2"/>
<circle cx="368.5" cy="73.5" r="1.2"/>
<circle cx="368.5" cy="90.7" r="1.2"/>
<circle cx="364.1" cy="96.4" r="1.2"/>
<circle cx="368.5" cy="94.7" r="1.2"/>
<circle cx="373" cy="96.5" r="1.2"/>
<circle cx="366.2" cy="99.8" r="1.2"/>
<circle cx="370.6" cy="99.3" r="1.2"/>
<circle cx="368.5" cy="103.5" r="1.2"/>
<circle cx="366.2" cy="105.9" r="1.2"/>
<circle cx="370.6" cy="107.7" r="1.2"/>
<circle cx="368.5" cy="110" r="1.2"/>
</g>
<text x="323.25" y="78.5" font-size="9.5" text-anchor="middle" textLength="76" lengthAdjust="spacingAndGlyphs" transform="rotate(-90 323.25 78.5)">Concentration (pg/mL)</text>
<text x="371.5" y="130.6" font-size="7.5" text-anchor="end" textLength="30.6" lengthAdjust="spacingAndGlyphs" transform="rotate(-45 371.5 130.6)">Baseline</text>
<text x="387.4" y="130.6" font-size="7.5" text-anchor="end" transform="rotate(-45 387.4 130.6)">No CRS</text>
<text x="403.5" y="130.6" font-size="7.5" text-anchor="end" transform="rotate(-45 403.5 130.6)">CRS</text>
<path d="M383.2 45.2V41.7H401.5V45.2" stroke="#2a2a2a" stroke-width="1.1" fill="none"/>
<circle cx="387.03" cy="37.8" r="1.05" fill="#222"/>
<circle cx="390.58" cy="37.8" r="1.05" fill="#222"/>
<circle cx="394.12" cy="37.8" r="1.05" fill="#222"/>
<circle cx="397.68" cy="37.8" r="1.05" fill="#222"/>
<text x="426.2" y="16.6" font-size="11.5" text-anchor="start" font-weight="bold" fill="#000" class="lt">E</text>
<text x="486.5" y="29.5" font-size="8" text-anchor="middle" textLength="16.7" lengthAdjust="spacingAndGlyphs">IL-12</text>
<rect x="465.3" y="118.67" width="9" height="1.33" fill="#8f98c6"/>
<rect x="481.2" y="105.33" width="9" height="14.67" fill="#8f98c6"/>
<rect x="497.3" y="104" width="9" height="16" fill="#8f98c6"/>
<path d="M459.6 37.5V120H512.2" stroke="#1a1a1a" stroke-width="1.35" fill="none"/>
<path d="M455.6 120H459.6M455.6 93.33H459.6M455.6 66.67H459.6M455.6 40H459.6M469.8 120V124M485.7 120V124M501.8 120V124" stroke="#1a1a1a" stroke-width="1.15" fill="none"/>
<text x="451.6" y="122.6" font-size="7.5" text-anchor="end" class="tk">0</text>
<text x="451.6" y="95.93" font-size="7.5" text-anchor="end" class="tk">40</text>
<text x="451.6" y="69.27" font-size="7.5" text-anchor="end" class="tk">80</text>
<text x="451.6" y="42.6" font-size="7.5" text-anchor="end" class="tk">120</text>
<path d="M469.8 118.67V110.2M467.4 110.2h4.8" stroke="#1a1a1a" stroke-width="1" fill="none"/>
<path d="M485.7 105.33V90.67M483.3 90.67h4.8" stroke="#1a1a1a" stroke-width="1" fill="none"/>
<path d="M501.8 104V90M499.4 90h4.8" stroke="#1a1a1a" stroke-width="1" fill="none"/>
<g fill="#1c3d82">
<circle cx="485.7" cy="54.67" r="1.2"/>
<circle cx="485.7" cy="65.33" r="1.2"/>
<circle cx="485.7" cy="72.67" r="1.2"/>
<circle cx="485.7" cy="74.67" r="1.2"/>
<circle cx="485.7" cy="79.33" r="1.2"/>
<circle cx="485.7" cy="84.67" r="1.2"/>
<circle cx="485.7" cy="87.33" r="1.2"/>
<circle cx="485.7" cy="89.33" r="1.2"/>
<circle cx="485.7" cy="92" r="1.2"/>
<circle cx="485.7" cy="94" r="1.2"/>
<circle cx="485.7" cy="96" r="1.2"/>
<circle cx="485.7" cy="98" r="1.2"/>
<circle cx="485.7" cy="100" r="1.2"/>
<circle cx="485.7" cy="102" r="1.2"/>
<circle cx="486.8" cy="103.38" r="1.2"/>
<circle cx="484.6" cy="103.7" r="1.2"/>
<circle cx="488.45" cy="104.5" r="1.2"/>
<circle cx="482.95" cy="105.01" r="1.2"/>
<circle cx="485.7" cy="105.18" r="1.2"/>
<circle cx="482.16" cy="105.38" r="1.2"/>
<circle cx="487.36" cy="105.65" r="1.2"/>
<circle cx="485.42" cy="105.8" r="1.2"/>
<circle cx="489.55" cy="105.86" r="1.2"/>
<circle cx="484.19" cy="105.96" r="1.2"/>
<circle cx="483.8" cy="106.26" r="1.2"/>
<circle cx="481.97" cy="106.57" r="1.2"/>
<circle cx="486.25" cy="107.41" r="1.2"/>
<circle cx="488.45" cy="107.54" r="1.2"/>
<circle cx="487.59" cy="107.62" r="1.2"/>
<circle cx="484.6" cy="108.02" r="1.2"/>
<circle cx="482.4" cy="108.53" r="1.2"/>
<circle cx="489.06" cy="108.78" r="1.2"/>
<circle cx="485.7" cy="109.59" r="1.2"/>
<circle cx="483.5" cy="109.94" r="1.2"/>
<circle cx="487.35" cy="110.12" r="1.2"/>
<circle cx="489" cy="110.99" r="1.2"/>
<circle cx="481.85" cy="111.06" r="1.2"/>
<circle cx="485.15" cy="111.24" r="1.2"/>
<circle cx="486.8" cy="111.82" r="1.2"/>
<circle cx="483.5" cy="112.02" r="1.2"/>
<circle cx="488.45" cy="112.63" r="1.2"/>
<circle cx="488.34" cy="112.67" r="1.2"/>
<circle cx="485.7" cy="113.48" r="1.2"/>
<circle cx="482.4" cy="113.64" r="1.2"/>
<circle cx="483.29" cy="113.69" r="1.2"/>
<circle cx="482.12" cy="113.84" r="1.2"/>
<circle cx="485.63" cy="113.96" r="1.2"/>
<circle cx="489.55" cy="114.15" r="1.2"/>
<circle cx="487.35" cy="114.64" r="1.2"/>
<circle cx="488.07" cy="114.76" r="1.2"/>
<circle cx="483.87" cy="115.12" r="1.2"/>
<circle cx="485.73" cy="115.31" r="1.2"/>
<circle cx="483.92" cy="115.33" r="1.2"/>
<circle cx="486.24" cy="115.5" r="1.2"/>
<circle cx="481.85" cy="115.65" r="1.2"/>
<circle cx="484.18" cy="115.82" r="1.2"/>
<circle cx="489.55" cy="116.12" r="1.2"/>
<circle cx="489.08" cy="116.27" r="1.2"/>
<circle cx="485.7" cy="117.21" r="1.2"/>
<circle cx="482.95" cy="117.33" r="1.2"/>
<circle cx="487.35" cy="118.15" r="1.2"/>
<circle cx="489.55" cy="118.54" r="1.2"/>
<circle cx="487.53" cy="118.54" r="1.2"/>
<circle cx="484.6" cy="118.55" r="1.2"/>
<circle cx="482.95" cy="119.45" r="1.2"/>
<circle cx="488.16" cy="119.69" r="1.2"/>
<circle cx="501.8" cy="72" r="1.2"/>
<circle cx="502.9" cy="73.6" r="1.2"/>
<circle cx="501.8" cy="79.33" r="1.2"/>
<circle cx="501.8" cy="84" r="1.2"/>
<circle cx="503.45" cy="84.67" r="1.2"/>
<circle cx="501.8" cy="93.33" r="1.2"/>
<circle cx="501.8" cy="95.33" r="1.2"/>
<circle cx="501.8" cy="98" r="1.2"/>
<circle cx="501.8" cy="100.79" r="1.2"/>
<circle cx="504" cy="100.86" r="1.2"/>
<circle cx="500.15" cy="101.37" r="1.2"/>
<circle cx="505.65" cy="101.44" r="1.2"/>
<circle cx="497.95" cy="101.85" r="1.2"/>
<circle cx="497.89" cy="101.96" r="1.2"/>
<circle cx="502.9" cy="102.33" r="1.2"/>
<circle cx="503.5" cy="102.81" r="1.2"/>
<circle cx="501.25" cy="102.86" r="1.2"/>
<circle cx="499.05" cy="103.25" r="1.2"/>
<circle cx="505.65" cy="103.33" r="1.2"/>
<circle cx="503.84" cy="103.93" r="1.2"/>
<circle cx="500.98" cy="104" r="1.2"/>
<circle cx="503.3" cy="104.08" r="1.2"/>
<circle cx="499.6" cy="105.4" r="1.2"/>
<circle cx="501.8" cy="106.01" r="1.2"/>
<circle cx="503.45" cy="106.72" r="1.2"/>
<circle cx="500.15" cy="107.17" r="1.2"/>
<circle cx="505.1" cy="107.7" r="1.2"/>
<circle cx="501.8" cy="107.84" r="1.2"/>
<circle cx="498.5" cy="108.04" r="1.2"/>
<circle cx="503.45" cy="108.83" r="1.2"/>
<circle cx="500.15" cy="108.92" r="1.2"/>
<circle cx="504.97" cy="109.28" r="1.2"/>
<circle cx="501.8" cy="109.76" r="1.2"/>
<circle cx="498.5" cy="109.81" r="1.2"/>
<circle cx="503.45" cy="110.96" r="1.2"/>
<circle cx="501.25" cy="111.43" r="1.2"/>
<circle cx="499.05" cy="111.46" r="1.2"/>
<circle cx="505.1" cy="111.81" r="1.2"/>
<circle cx="503.49" cy="112.11" r="1.2"/>
<circle cx="500.7" cy="112.75" r="1.2"/>
<circle cx="499.05" cy="113.32" r="1.2"/>
<circle cx="502.35" cy="114.02" r="1.2"/>
<circle cx="504.55" cy="114.17" r="1.2"/>
<circle cx="500.7" cy="114.98" r="1.2"/>
<circle cx="498.5" cy="115.32" r="1.2"/>
<circle cx="503.45" cy="115.53" r="1.2"/>
<circle cx="505.65" cy="116.01" r="1.2"/>
<circle cx="501.89" cy="116.26" r="1.2"/>
<circle cx="470.3" cy="98.4" r="1.2"/>
<circle cx="467.2" cy="115.5" r="1.2"/>
<circle cx="471.6" cy="116.8" r="1.2"/>
<circle cx="473.3" cy="117" r="1.2"/>
<circle cx="466.3" cy="119.2" r="1.2"/>
<circle cx="468.6" cy="119.5" r="1.2"/>
<circle cx="471.3" cy="119.2" r="1.2"/>
<circle cx="473.9" cy="119.5" r="1.2"/>
<circle cx="467.3" cy="120.5" r="1.2"/>
<circle cx="470.3" cy="120.5" r="1.2"/>
</g>
<text x="433.2" y="78.5" font-size="9.5" text-anchor="middle" textLength="76" lengthAdjust="spacingAndGlyphs" transform="rotate(-90 433.2 78.5)">Concentration (pg/mL)</text>
<text x="473.2" y="130.6" font-size="7.5" text-anchor="end" textLength="30.6" lengthAdjust="spacingAndGlyphs" transform="rotate(-45 473.2 130.6)">Baseline</text>
<text x="489.1" y="130.6" font-size="7.5" text-anchor="end" transform="rotate(-45 489.1 130.6)">No CRS</text>
<text x="505.2" y="130.6" font-size="7.5" text-anchor="end" transform="rotate(-45 505.2 130.6)">CRS</text>
<path d="M485.4 48.4V44.9H502.6V48.4" stroke="#2a2a2a" stroke-width="1.1" fill="none"/>
<text x="494" y="41.1" font-size="6.9" text-anchor="middle" textLength="6.6" lengthAdjust="spacingAndGlyphs">ns</text>
<text x="7.3" y="172" font-size="11.5" text-anchor="start" font-weight="bold" fill="#000" class="lt">F</text>
<text x="76.25" y="184.9" font-size="8" text-anchor="middle" textLength="23.2" lengthAdjust="spacingAndGlyphs">MCP-1</text>
<rect x="55.9" y="229.45" width="9" height="46.3" fill="#8f98c6"/>
<rect x="71.8" y="229.77" width="9" height="45.98" fill="#8f98c6"/>
<rect x="87.9" y="220.8" width="9" height="54.95" fill="#8f98c6"/>
<path d="M50.2 193.25V275.75H102.8" stroke="#1a1a1a" stroke-width="1.35" fill="none"/>
<path d="M46.2 275.75H50.2M46.2 249.08H50.2M46.2 222.42H50.2M46.2 195.75H50.2M60.4 275.75V279.75M76.3 275.75V279.75M92.4 275.75V279.75" stroke="#1a1a1a" stroke-width="1.15" fill="none"/>
<text x="42.2" y="278.35" font-size="7.5" text-anchor="end" class="tk">10</text>
<text x="42.2" y="251.68" font-size="7.5" text-anchor="end" class="tk">100</text>
<text x="42.2" y="225.02" font-size="7.5" text-anchor="end" class="tk">1000</text>
<text x="42.2" y="198.35" font-size="7.5" text-anchor="end" class="tk">10000</text>
<path d="M60.4 229.45V219.97M58 219.97h4.8" stroke="#1a1a1a" stroke-width="1" fill="none"/>
<path d="M76.3 244.94V229.77M73.9 244.94h4.8" stroke="#1a1a1a" stroke-width="1" fill="none"/>
<path d="M92.4 234.57V220.8M90 234.57h4.8" stroke="#1a1a1a" stroke-width="1" fill="none"/>
<g fill="#1c3d82">
<circle cx="76.3" cy="209.31" r="1.2"/>
<circle cx="77.95" cy="210.49" r="1.2"/>
<circle cx="76.3" cy="211.8" r="1.2"/>
<circle cx="77.4" cy="213.29" r="1.2"/>
<circle cx="75.75" cy="214.39" r="1.2"/>
<circle cx="77.4" cy="215.61" r="1.2"/>
<circle cx="76.3" cy="219.95" r="1.2"/>
<circle cx="77.95" cy="221.09" r="1.2"/>
<circle cx="74.65" cy="221.14" r="1.2"/>
<circle cx="80.15" cy="221.33" r="1.2"/>
<circle cx="76.3" cy="222.11" r="1.2"/>
<circle cx="73.55" cy="222.51" r="1.2"/>
<circle cx="78.32" cy="222.51" r="1.2"/>
<circle cx="75.58" cy="222.56" r="1.2"/>
<circle cx="72.47" cy="222.6" r="1.2"/>
<circle cx="78.48" cy="223.04" r="1.2"/>
<circle cx="76.54" cy="223.2" r="1.2"/>
<circle cx="75.12" cy="223.21" r="1.2"/>
<circle cx="78.02" cy="223.22" r="1.2"/>
<circle cx="79.53" cy="223.37" r="1.2"/>
<circle cx="77.92" cy="223.89" r="1.2"/>
<circle cx="72.52" cy="223.94" r="1.2"/>
<circle cx="72.88" cy="224.37" r="1.2"/>
<circle cx="78.4" cy="224.51" r="1.2"/>
<circle cx="73.39" cy="224.79" r="1.2"/>
<circle cx="76.67" cy="224.82" r="1.2"/>
<circle cx="75.13" cy="224.85" r="1.2"/>
<circle cx="80.15" cy="225.12" r="1.2"/>
<circle cx="77.23" cy="225.15" r="1.2"/>
<circle cx="72.83" cy="225.15" r="1.2"/>
<circle cx="75.69" cy="225.25" r="1.2"/>
<circle cx="78.82" cy="225.28" r="1.2"/>
<circle cx="76.03" cy="225.68" r="1.2"/>
<circle cx="78.37" cy="225.88" r="1.2"/>
<circle cx="77.87" cy="225.88" r="1.2"/>
<circle cx="80.13" cy="226.28" r="1.2"/>
<circle cx="74.64" cy="226.34" r="1.2"/>
<circle cx="75.54" cy="226.47" r="1.2"/>
<circle cx="76.19" cy="226.55" r="1.2"/>
<circle cx="78.61" cy="226.81" r="1.2"/>
<circle cx="73" cy="226.9" r="1.2"/>
<circle cx="78.82" cy="227.04" r="1.2"/>
<circle cx="72.96" cy="227.11" r="1.2"/>
<circle cx="76.35" cy="227.19" r="1.2"/>
<circle cx="75.51" cy="227.21" r="1.2"/>
<circle cx="76.69" cy="227.24" r="1.2"/>
<circle cx="76.46" cy="227.33" r="1.2"/>
<circle cx="75.54" cy="227.76" r="1.2"/>
<circle cx="80.15" cy="228.36" r="1.2"/>
<circle cx="72.75" cy="228.49" r="1.2"/>
<circle cx="77.95" cy="228.65" r="1.2"/>
<circle cx="73.09" cy="228.65" r="1.2"/>
<circle cx="74.46" cy="228.81" r="1.2"/>
<circle cx="73.64" cy="228.97" r="1.2"/>
<circle cx="78.17" cy="228.99" r="1.2"/>
<circle cx="79.46" cy="229.19" r="1.2"/>
<circle cx="76.3" cy="229.58" r="1.2"/>
<circle cx="74.17" cy="229.68" r="1.2"/>
<circle cx="78.9" cy="230.23" r="1.2"/>
<circle cx="72.45" cy="230.41" r="1.2"/>
<circle cx="79.78" cy="230.66" r="1.2"/>
<circle cx="78.71" cy="231.01" r="1.2"/>
<circle cx="79.76" cy="231.06" r="1.2"/>
<circle cx="76.3" cy="231.35" r="1.2"/>
<circle cx="74.1" cy="231.47" r="1.2"/>
<circle cx="80.08" cy="231.55" r="1.2"/>
<circle cx="77.34" cy="231.76" r="1.2"/>
<circle cx="73" cy="231.82" r="1.2"/>
<circle cx="75.79" cy="232.52" r="1.2"/>
<circle cx="79.05" cy="232.95" r="1.2"/>
<circle cx="79.84" cy="232.97" r="1.2"/>
<circle cx="74.1" cy="233.36" r="1.2"/>
<circle cx="77.4" cy="233.55" r="1.2"/>
<circle cx="75.75" cy="234.88" r="1.2"/>
<circle cx="78.5" cy="235.17" r="1.2"/>
<circle cx="76.3" cy="236.7" r="1.2"/>
<circle cx="76.3" cy="238.86" r="1.2"/>
<circle cx="76.3" cy="241.91" r="1.2"/>
<circle cx="77.95" cy="242.55" r="1.2"/>
<circle cx="76.3" cy="244.29" r="1.2"/>
<circle cx="77.4" cy="245.64" r="1.2"/>
<circle cx="75.2" cy="245.87" r="1.2"/>
<circle cx="79.6" cy="245.93" r="1.2"/>
<circle cx="73.55" cy="246.47" r="1.2"/>
<circle cx="73.65" cy="246.52" r="1.2"/>
<circle cx="77.43" cy="246.94" r="1.2"/>
<circle cx="76.3" cy="255.59" r="1.2"/>
<circle cx="92.4" cy="207.26" r="1.2"/>
<circle cx="94.05" cy="208.59" r="1.2"/>
<circle cx="92.4" cy="209.69" r="1.2"/>
<circle cx="94.05" cy="210.49" r="1.2"/>
<circle cx="92.4" cy="211.8" r="1.2"/>
<circle cx="94.05" cy="212.77" r="1.2"/>
<circle cx="92.4" cy="214.39" r="1.2"/>
<circle cx="94.05" cy="215.61" r="1.2"/>
<circle cx="92.4" cy="216.74" r="1.2"/>
<circle cx="90.2" cy="216.87" r="1.2"/>
<circle cx="94.05" cy="217.61" r="1.2"/>
<circle cx="96.25" cy="217.77" r="1.2"/>
<circle cx="92.4" cy="218.83" r="1.2"/>
<circle cx="94.6" cy="219.31" r="1.2"/>
<circle cx="90.75" cy="219.39" r="1.2"/>
<circle cx="92.95" cy="220.55" r="1.2"/>
<circle cx="90.2" cy="221.05" r="1.2"/>
<circle cx="94.6" cy="221.84" r="1.2"/>
<circle cx="91.85" cy="222.15" r="1.2"/>
<circle cx="92.4" cy="224.84" r="1.2"/>
<circle cx="94.05" cy="225.56" r="1.2"/>
<circle cx="91.3" cy="226.33" r="1.2"/>
<circle cx="92.95" cy="226.97" r="1.2"/>
<circle cx="94.6" cy="227.9" r="1.2"/>
<circle cx="90.2" cy="227.96" r="1.2"/>
<circle cx="94.43" cy="228.11" r="1.2"/>
<circle cx="92.4" cy="229.15" r="1.2"/>
<circle cx="94.05" cy="230.42" r="1.2"/>
<circle cx="92.4" cy="231.8" r="1.2"/>
<circle cx="92.95" cy="233.44" r="1.2"/>
<circle cx="91.3" cy="234.26" r="1.2"/>
<circle cx="94.6" cy="234.42" r="1.2"/>
<circle cx="89.1" cy="234.46" r="1.2"/>
<circle cx="92.4" cy="237.58" r="1.2"/>
<circle cx="92.4" cy="240.49" r="1.2"/>
<circle cx="92.4" cy="242.28" r="1.2"/>
<circle cx="92.4" cy="244.01" r="1.2"/>
<circle cx="60.6" cy="213.7" r="1.2"/>
<circle cx="58.4" cy="224.3" r="1.2"/>
<circle cx="62.6" cy="223.7" r="1.2"/>
<circle cx="60.6" cy="229.2" r="1.2"/>
<circle cx="56.3" cy="234.1" r="1.2"/>
<circle cx="60.6" cy="233.3" r="1.2"/>
<circle cx="60.6" cy="235.9" r="1.2"/>
<circle cx="64.7" cy="235.7" r="1.2"/>
<circle cx="60.6" cy="249.1" r="1.2"/>
<circle cx="64.7" cy="248.3" r="1.2"/>
<circle cx="60.6" cy="255.7" r="1.2"/>
</g>
<text x="14.65" y="234.25" font-size="9.5" text-anchor="middle" textLength="76" lengthAdjust="spacingAndGlyphs" transform="rotate(-90 14.65 234.25)">Concentration (pg/mL)</text>
<text x="63.8" y="286.35" font-size="7.5" text-anchor="end" textLength="30.6" lengthAdjust="spacingAndGlyphs" transform="rotate(-45 63.8 286.35)">Baseline</text>
<text x="79.7" y="286.35" font-size="7.5" text-anchor="end" transform="rotate(-45 79.7 286.35)">No CRS</text>
<text x="95.8" y="286.35" font-size="7.5" text-anchor="end" transform="rotate(-45 95.8 286.35)">CRS</text>
<path d="M75.9 201.25V197.75H93.4V201.25" stroke="#2a2a2a" stroke-width="1.1" fill="none"/>
<circle cx="81.1" cy="193.85" r="1.05" fill="#222"/>
<circle cx="84.65" cy="193.85" r="1.05" fill="#222"/>
<circle cx="88.2" cy="193.85" r="1.05" fill="#222"/>
<text x="116" y="172" font-size="11.5" text-anchor="start" font-weight="bold" fill="#000" class="lt">G</text>
<text x="177.12" y="184.9" font-size="8" text-anchor="middle" textLength="18.45" lengthAdjust="spacingAndGlyphs">IFN-γ</text>
<rect x="155.9" y="274.68" width="9" height="1.07" fill="#8f98c6"/>
<rect x="171.8" y="269.08" width="9" height="6.67" fill="#8f98c6"/>
<rect x="187.9" y="260.82" width="9" height="14.93" fill="#8f98c6"/>
<path d="M150.2 193.25V275.75H202.8" stroke="#1a1a1a" stroke-width="1.35" fill="none"/>
<path d="M146.2 275.75H150.2M146.2 249.08H150.2M146.2 222.42H150.2M146.2 195.75H150.2M160.4 275.75V279.75M176.3 275.75V279.75M192.4 275.75V279.75" stroke="#1a1a1a" stroke-width="1.15" fill="none"/>
<text x="142.2" y="278.35" font-size="7.5" text-anchor="end" class="tk">0</text>
<text x="142.2" y="251.68" font-size="7.5" text-anchor="end" class="tk">100</text>
<text x="142.2" y="225.02" font-size="7.5" text-anchor="end" class="tk">200</text>
<text x="142.2" y="198.35" font-size="7.5" text-anchor="end" class="tk">300</text>
<path d="M160.4 274.68V265.35M158 265.35h4.8" stroke="#1a1a1a" stroke-width="1" fill="none"/>
<path d="M176.3 269.08V259.75M173.9 259.75h4.8" stroke="#1a1a1a" stroke-width="1" fill="none"/>
<path d="M192.4 260.82V247.48M190 247.48h4.8" stroke="#1a1a1a" stroke-width="1" fill="none"/>
<g fill="#1c3d82">
<circle cx="176.3" cy="241.62" r="1.2"/>
<circle cx="176.3" cy="244.55" r="1.2"/>
<circle cx="177.4" cy="246.15" r="1.2"/>
<circle cx="176.3" cy="247.75" r="1.2"/>
<circle cx="177.4" cy="249.35" r="1.2"/>
<circle cx="176.3" cy="250.95" r="1.2"/>
<circle cx="177.4" cy="252.55" r="1.2"/>
<circle cx="176.3" cy="254.15" r="1.2"/>
<circle cx="177.4" cy="255.75" r="1.2"/>
<circle cx="176.3" cy="257.35" r="1.2"/>
<circle cx="177.4" cy="258.95" r="1.2"/>
<circle cx="176.3" cy="261.4" r="1.2"/>
<circle cx="177.95" cy="261.98" r="1.2"/>
<circle cx="174.65" cy="262.51" r="1.2"/>
<circle cx="176.3" cy="263.49" r="1.2"/>
<circle cx="178.5" cy="263.72" r="1.2"/>
<circle cx="174.65" cy="264.45" r="1.2"/>
<circle cx="180.15" cy="264.54" r="1.2"/>
<circle cx="172.45" cy="264.8" r="1.2"/>
<circle cx="178.03" cy="264.86" r="1.2"/>
<circle cx="176.3" cy="265.51" r="1.2"/>
<circle cx="180.2" cy="265.68" r="1.2"/>
<circle cx="179.65" cy="265.94" r="1.2"/>
<circle cx="173.95" cy="266.04" r="1.2"/>
<circle cx="179.07" cy="266.33" r="1.2"/>
<circle cx="174.98" cy="266.75" r="1.2"/>
<circle cx="177.4" cy="266.87" r="1.2"/>
<circle cx="172.45" cy="266.97" r="1.2"/>
<circle cx="175.69" cy="267.22" r="1.2"/>
<circle cx="180.22" cy="267.23" r="1.2"/>
<circle cx="180.18" cy="267.56" r="1.2"/>
<circle cx="179.59" cy="267.67" r="1.2"/>
<circle cx="179.45" cy="267.8" r="1.2"/>
<circle cx="179.86" cy="267.81" r="1.2"/>
<circle cx="174.88" cy="267.84" r="1.2"/>
<circle cx="177.24" cy="267.85" r="1.2"/>
<circle cx="178.7" cy="268.07" r="1.2"/>
<circle cx="175.85" cy="268.4" r="1.2"/>
<circle cx="173" cy="268.83" r="1.2"/>
<circle cx="175.19" cy="269.44" r="1.2"/>
<circle cx="172.65" cy="269.45" r="1.2"/>
<circle cx="176.85" cy="269.97" r="1.2"/>
<circle cx="179.05" cy="270" r="1.2"/>
<circle cx="178.38" cy="270.12" r="1.2"/>
<circle cx="173" cy="270.14" r="1.2"/>
<circle cx="179.32" cy="270.31" r="1.2"/>
<circle cx="173.21" cy="270.39" r="1.2"/>
<circle cx="174.35" cy="270.66" r="1.2"/>
<circle cx="179.57" cy="270.73" r="1.2"/>
<circle cx="175.96" cy="270.88" r="1.2"/>
<circle cx="175.55" cy="271.17" r="1.2"/>
<circle cx="177.92" cy="271.28" r="1.2"/>
<circle cx="175.61" cy="271.34" r="1.2"/>
<circle cx="176.83" cy="271.35" r="1.2"/>
<circle cx="173.6" cy="271.35" r="1.2"/>
<circle cx="174.61" cy="271.49" r="1.2"/>
<circle cx="177.61" cy="271.92" r="1.2"/>
<circle cx="178.3" cy="272.04" r="1.2"/>
<circle cx="173.54" cy="272.1" r="1.2"/>
<circle cx="180.15" cy="272.45" r="1.2"/>
<circle cx="172.4" cy="272.64" r="1.2"/>
<circle cx="176.3" cy="273.1" r="1.2"/>
<circle cx="175.64" cy="273.11" r="1.2"/>
<circle cx="177.95" cy="273.62" r="1.2"/>
<circle cx="177.61" cy="273.65" r="1.2"/>
<circle cx="173.72" cy="273.8" r="1.2"/>
<circle cx="178.57" cy="274.06" r="1.2"/>
<circle cx="175.77" cy="274.49" r="1.2"/>
<circle cx="179.36" cy="274.49" r="1.2"/>
<circle cx="178.82" cy="274.75" r="1.2"/>
<circle cx="176.28" cy="274.86" r="1.2"/>
<circle cx="180.18" cy="274.88" r="1.2"/>
<circle cx="173.66" cy="274.97" r="1.2"/>
<circle cx="176.02" cy="275.19" r="1.2"/>
<circle cx="173.79" cy="275.31" r="1.2"/>
<circle cx="173.5" cy="275.61" r="1.2"/>
<circle cx="174.17" cy="275.74" r="1.2"/>
<circle cx="172.38" cy="275.75" r="1.2"/>
<circle cx="175.41" cy="275.75" r="1.2"/>
<circle cx="192.4" cy="200.28" r="1.2"/>
<circle cx="192.4" cy="233.88" r="1.2"/>
<circle cx="192.4" cy="244.55" r="1.2"/>
<circle cx="194.05" cy="245.62" r="1.2"/>
<circle cx="192.4" cy="246.68" r="1.2"/>
<circle cx="192.4" cy="250.15" r="1.2"/>
<circle cx="192.4" cy="258.15" r="1.2"/>
<circle cx="194.05" cy="258.95" r="1.2"/>
<circle cx="192.4" cy="260.91" r="1.2"/>
<circle cx="194.6" cy="260.93" r="1.2"/>
<circle cx="190.2" cy="260.95" r="1.2"/>
<circle cx="192.76" cy="261.44" r="1.2"/>
<circle cx="196.25" cy="261.62" r="1.2"/>
<circle cx="188.55" cy="261.81" r="1.2"/>
<circle cx="195.21" cy="261.87" r="1.2"/>
<circle cx="192.11" cy="262.06" r="1.2"/>
<circle cx="193.01" cy="262.06" r="1.2"/>
<circle cx="191" cy="262.15" r="1.2"/>
<circle cx="193" cy="262.26" r="1.2"/>
<circle cx="190.59" cy="262.63" r="1.2"/>
<circle cx="192.4" cy="263.92" r="1.2"/>
<circle cx="194.6" cy="264.18" r="1.2"/>
<circle cx="189.65" cy="264.26" r="1.2"/>
<circle cx="193.64" cy="264.32" r="1.2"/>
<circle cx="196.25" cy="265.08" r="1.2"/>
<circle cx="191.3" cy="265.34" r="1.2"/>
<circle cx="188.55" cy="265.6" r="1.2"/>
<circle cx="194.89" cy="265.76" r="1.2"/>
<circle cx="194.49" cy="265.79" r="1.2"/>
<circle cx="195.31" cy="265.92" r="1.2"/>
<circle cx="195.24" cy="266.16" r="1.2"/>
<circle cx="191.46" cy="266.35" r="1.2"/>
<circle cx="192.12" cy="266.46" r="1.2"/>
<circle cx="195.85" cy="266.72" r="1.2"/>
<circle cx="193.5" cy="267.58" r="1.2"/>
<circle cx="190.2" cy="267.66" r="1.2"/>
<circle cx="193.07" cy="268.02" r="1.2"/>
<circle cx="193.03" cy="268.12" r="1.2"/>
<circle cx="195.15" cy="268.66" r="1.2"/>
<circle cx="188.55" cy="268.85" r="1.2"/>
<circle cx="191.3" cy="269.26" r="1.2"/>
<circle cx="192.95" cy="270.46" r="1.2"/>
<circle cx="190.2" cy="270.79" r="1.2"/>
<circle cx="194.6" cy="271.4" r="1.2"/>
<circle cx="188.55" cy="271.45" r="1.2"/>
<circle cx="192.4" cy="273.36" r="1.2"/>
<circle cx="194.6" cy="273.38" r="1.2"/>
<circle cx="190.75" cy="273.88" r="1.2"/>
<circle cx="196.25" cy="274.03" r="1.2"/>
<circle cx="188.55" cy="274.07" r="1.2"/>
<circle cx="160.6" cy="252.6" r="1.2"/>
<circle cx="160.9" cy="270.5" r="1.2"/>
<circle cx="159.3" cy="271.5" r="1.2"/>
<circle cx="160.6" cy="272.5" r="1.2"/>
<circle cx="157.3" cy="274.5" r="1.2"/>
<circle cx="159.3" cy="275.1" r="1.2"/>
<circle cx="161.3" cy="275.5" r="1.2"/>
<circle cx="163.6" cy="275.1" r="1.2"/>
<circle cx="165.2" cy="275.8" r="1.2"/>
<circle cx="156.6" cy="276.1" r="1.2"/>
<circle cx="162.3" cy="276.1" r="1.2"/>
</g>
<text x="123.25" y="234.25" font-size="9.5" text-anchor="middle" textLength="76" lengthAdjust="spacingAndGlyphs" transform="rotate(-90 123.25 234.25)">Concentration (pg/mL)</text>
<text x="163.8" y="286.35" font-size="7.5" text-anchor="end" textLength="30.6" lengthAdjust="spacingAndGlyphs" transform="rotate(-45 163.8 286.35)">Baseline</text>
<text x="179.7" y="286.35" font-size="7.5" text-anchor="end" transform="rotate(-45 179.7 286.35)">No CRS</text>
<text x="195.8" y="286.35" font-size="7.5" text-anchor="end" transform="rotate(-45 195.8 286.35)">CRS</text>
<path d="M176.4 198.6V195.1H192.4V198.6" stroke="#2a2a2a" stroke-width="1.1" fill="none"/>
<circle cx="182.62" cy="191.2" r="1.05" fill="#222"/>
<circle cx="186.18" cy="191.2" r="1.05" fill="#222"/>
<text x="220.1" y="172" font-size="11.5" text-anchor="start" font-weight="bold" fill="#000" class="lt">H</text>
<text x="275.55" y="184.7" font-size="8" text-anchor="middle" textLength="12.4" lengthAdjust="spacingAndGlyphs">IL-2</text>
<rect x="254.8" y="273.15" width="9" height="2.6" fill="#8f98c6"/>
<rect x="270.7" y="264.15" width="9" height="11.6" fill="#8f98c6"/>
<rect x="286.8" y="264.15" width="9" height="11.6" fill="#8f98c6"/>
<path d="M249.1 193.25V275.75H301.7" stroke="#1a1a1a" stroke-width="1.35" fill="none"/>
<path d="M245.1 275.75H249.1M245.1 255.75H249.1M245.1 235.75H249.1M245.1 215.75H249.1M245.1 195.75H249.1M259.3 275.75V279.75M275.2 275.75V279.75M291.3 275.75V279.75" stroke="#1a1a1a" stroke-width="1.15" fill="none"/>
<text x="241.1" y="278.35" font-size="7.5" text-anchor="end" class="tk">0</text>
<text x="241.1" y="258.35" font-size="7.5" text-anchor="end" class="tk">10</text>
<text x="241.1" y="238.35" font-size="7.5" text-anchor="end" class="tk">20</text>
<text x="241.1" y="218.35" font-size="7.5" text-anchor="end" class="tk">30</text>
<text x="241.1" y="198.35" font-size="7.5" text-anchor="end" class="tk">40</text>
<path d="M259.3 273.15V267.55M256.9 267.55h4.8" stroke="#1a1a1a" stroke-width="1" fill="none"/>
<path d="M275.2 264.15V247.15M272.8 247.15h4.8" stroke="#1a1a1a" stroke-width="1" fill="none"/>
<path d="M291.3 264.15V250.15M288.9 250.15h4.8" stroke="#1a1a1a" stroke-width="1" fill="none"/>
<g fill="#1c3d82">
<circle cx="275.2" cy="200.95" r="1.2"/>
<circle cx="275.2" cy="210.35" r="1.2"/>
<circle cx="275.2" cy="219.75" r="1.2"/>
<circle cx="275.2" cy="224.75" r="1.2"/>
<circle cx="275.2" cy="228.95" r="1.2"/>
<circle cx="275.2" cy="233.75" r="1.2"/>
<circle cx="275.2" cy="239.15" r="1.2"/>
<circle cx="275.2" cy="248.15" r="1.2"/>
<circle cx="276.3" cy="249.75" r="1.2"/>
<circle cx="275.2" cy="251.35" r="1.2"/>
<circle cx="276.3" cy="252.75" r="1.2"/>
<circle cx="275.2" cy="254.15" r="1.2"/>
<circle cx="276.3" cy="255.75" r="1.2"/>
<circle cx="275.2" cy="257.35" r="1.2"/>
<circle cx="276.3" cy="258.75" r="1.2"/>
<circle cx="275.2" cy="260.15" r="1.2"/>
<circle cx="276.3" cy="261.75" r="1.2"/>
<circle cx="275.2" cy="263.15" r="1.2"/>
<circle cx="276.3" cy="264.55" r="1.2"/>
<circle cx="274.1" cy="265.04" r="1.2"/>
<circle cx="277.95" cy="265.62" r="1.2"/>
<circle cx="275.75" cy="266.21" r="1.2"/>
<circle cx="274.1" cy="266.79" r="1.2"/>
<circle cx="277.4" cy="267.38" r="1.2"/>
<circle cx="275.75" cy="267.96" r="1.2"/>
<circle cx="274.1" cy="268.54" r="1.2"/>
<circle cx="277.4" cy="269.12" r="1.2"/>
<circle cx="275.75" cy="269.71" r="1.2"/>
<circle cx="274.1" cy="270.29" r="1.2"/>
<circle cx="277.4" cy="270.88" r="1.2"/>
<circle cx="275.75" cy="271.46" r="1.2"/>
<circle cx="273" cy="271.93" r="1.2"/>
<circle cx="278.5" cy="272.33" r="1.2"/>
<circle cx="271.35" cy="272.5" r="1.2"/>
<circle cx="275.22" cy="272.65" r="1.2"/>
<circle cx="277.48" cy="272.93" r="1.2"/>
<circle cx="271.24" cy="273.14" r="1.2"/>
<circle cx="273.18" cy="273.28" r="1.2"/>
<circle cx="274.97" cy="273.3" r="1.2"/>
<circle cx="271.42" cy="273.34" r="1.2"/>
<circle cx="275.58" cy="273.37" r="1.2"/>
<circle cx="271.99" cy="273.53" r="1.2"/>
<circle cx="276.79" cy="273.76" r="1.2"/>
<circle cx="279.05" cy="274.08" r="1.2"/>
<circle cx="273.62" cy="274.15" r="1.2"/>
<circle cx="273.56" cy="274.48" r="1.2"/>
<circle cx="271.74" cy="274.8" r="1.2"/>
<circle cx="277.34" cy="274.95" r="1.2"/>
<circle cx="275.2" cy="275.14" r="1.2"/>
<circle cx="272.68" cy="275.19" r="1.2"/>
<circle cx="273.34" cy="275.25" r="1.2"/>
<circle cx="278.89" cy="275.44" r="1.2"/>
<circle cx="278.15" cy="275.5" r="1.2"/>
<circle cx="276.82" cy="275.53" r="1.2"/>
<circle cx="275.49" cy="275.67" r="1.2"/>
<circle cx="272.55" cy="275.72" r="1.2"/>
<circle cx="272.7" cy="275.74" r="1.2"/>
<circle cx="291.3" cy="235.75" r="1.2"/>
<circle cx="292.95" cy="236.55" r="1.2"/>
<circle cx="291.3" cy="242.55" r="1.2"/>
<circle cx="292.95" cy="243.55" r="1.2"/>
<circle cx="291.3" cy="247.15" r="1.2"/>
<circle cx="291.3" cy="257.95" r="1.2"/>
<circle cx="291.3" cy="260.95" r="1.2"/>
<circle cx="293.5" cy="261.42" r="1.2"/>
<circle cx="289.65" cy="261.63" r="1.2"/>
<circle cx="287.45" cy="261.68" r="1.2"/>
<circle cx="295.15" cy="262.02" r="1.2"/>
<circle cx="291.3" cy="262.77" r="1.2"/>
<circle cx="290.17" cy="262.82" r="1.2"/>
<circle cx="293.24" cy="263.09" r="1.2"/>
<circle cx="288.55" cy="263.46" r="1.2"/>
<circle cx="295.15" cy="263.97" r="1.2"/>
<circle cx="292.28" cy="264.31" r="1.2"/>
<circle cx="287.62" cy="264.44" r="1.2"/>
<circle cx="290.2" cy="264.87" r="1.2"/>
<circle cx="294.05" cy="265.31" r="1.2"/>
<circle cx="293.92" cy="265.44" r="1.2"/>
<circle cx="288.55" cy="265.95" r="1.2"/>
<circle cx="291.3" cy="267.92" r="1.2"/>
<circle cx="293.5" cy="268.22" r="1.2"/>
<circle cx="289.65" cy="268.82" r="1.2"/>
<circle cx="291.3" cy="269.78" r="1.2"/>
<circle cx="293.5" cy="270.1" r="1.2"/>
<circle cx="289.1" cy="270.54" r="1.2"/>
<circle cx="295.15" cy="270.74" r="1.2"/>
<circle cx="287.45" cy="271.16" r="1.2"/>
<circle cx="291.3" cy="271.79" r="1.2"/>
<circle cx="293.5" cy="271.91" r="1.2"/>
<circle cx="288.44" cy="272.12" r="1.2"/>
<circle cx="289.66" cy="272.15" r="1.2"/>
<circle cx="288.66" cy="272.26" r="1.2"/>
<circle cx="295.15" cy="272.88" r="1.2"/>
<circle cx="288.46" cy="273.21" r="1.2"/>
<circle cx="291.3" cy="273.85" r="1.2"/>
<circle cx="293.5" cy="274.11" r="1.2"/>
<circle cx="289.65" cy="274.55" r="1.2"/>
<circle cx="295.15" cy="274.67" r="1.2"/>
<circle cx="287.45" cy="274.78" r="1.2"/>
<circle cx="293.31" cy="275.29" r="1.2"/>
<circle cx="258" cy="264.8" r="1.2"/>
<circle cx="260.3" cy="264.4" r="1.2"/>
<circle cx="258.6" cy="268.5" r="1.2"/>
<circle cx="260.1" cy="268.3" r="1.2"/>
<circle cx="258.6" cy="270.4" r="1.2"/>
<circle cx="258.2" cy="272.5" r="1.2"/>
<circle cx="256" cy="273.7" r="1.2"/>
<circle cx="257.2" cy="273.5" r="1.2"/>
<circle cx="255.1" cy="275.4" r="1.2"/>
<circle cx="257.2" cy="275.6" r="1.2"/>
<circle cx="259.3" cy="275.1" r="1.2"/>
<circle cx="261.3" cy="275.4" r="1.2"/>
<circle cx="263.4" cy="275.1" r="1.2"/>
<circle cx="256.4" cy="276.2" r="1.2"/>
<circle cx="263.4" cy="276" r="1.2"/>
</g>
<text x="225.75" y="234.25" font-size="9.5" text-anchor="middle" textLength="76" lengthAdjust="spacingAndGlyphs" transform="rotate(-90 225.75 234.25)">Concentration (pg/mL)</text>
<text x="262.7" y="286.35" font-size="7.5" text-anchor="end" textLength="30.6" lengthAdjust="spacingAndGlyphs" transform="rotate(-45 262.7 286.35)">Baseline</text>
<text x="278.6" y="286.35" font-size="7.5" text-anchor="end" transform="rotate(-45 278.6 286.35)">No CRS</text>
<text x="294.7" y="286.35" font-size="7.5" text-anchor="end" transform="rotate(-45 294.7 286.35)">CRS</text>
<path d="M275.2 197.85V194.35H291.4V197.85" stroke="#2a2a2a" stroke-width="1.1" fill="none"/>
<text x="283.3" y="190.55" font-size="6.9" text-anchor="middle" textLength="6.6" lengthAdjust="spacingAndGlyphs">ns</text>
<text x="324" y="172" font-size="11.5" text-anchor="start" font-weight="bold" fill="#000" class="lt">I</text>
<text x="384.6" y="184.7" font-size="8" text-anchor="middle" textLength="12.9" lengthAdjust="spacingAndGlyphs">IL-8</text>
<rect x="363.6" y="271.77" width="9" height="3.98" fill="#8f98c6"/>
<rect x="379.5" y="259.45" width="9" height="16.3" fill="#8f98c6"/>
<rect x="395.6" y="251.37" width="9" height="24.38" fill="#8f98c6"/>
<path d="M357.9 193.25V275.75H410.5" stroke="#1a1a1a" stroke-width="1.35" fill="none"/>
<path d="M353.9 275.75H357.9M353.9 250.08H357.9M353.9 224.42H357.9M353.9 198.75H357.9M368.1 275.75V279.75M384 275.75V279.75M400.1 275.75V279.75" stroke="#1a1a1a" stroke-width="1.15" fill="none"/>
<text x="349.9" y="278.35" font-size="7.5" text-anchor="end" class="tk">0</text>
<text x="349.9" y="252.68" font-size="7.5" text-anchor="end" class="tk">200</text>
<text x="349.9" y="227.02" font-size="7.5" text-anchor="end" class="tk">400</text>
<text x="349.9" y="201.35" font-size="7.5" text-anchor="end" class="tk">600</text>
<path d="M368.1 271.77V262.15M365.7 262.15h4.8" stroke="#1a1a1a" stroke-width="1" fill="none"/>
<path d="M384 259.45V243.03M381.6 243.03h4.8" stroke="#1a1a1a" stroke-width="1" fill="none"/>
<path d="M400.1 251.37V233.91M397.7 233.91h4.8" stroke="#1a1a1a" stroke-width="1" fill="none"/>
<g fill="#1c3d82">
<circle cx="384" cy="200.42" r="1.2"/>
<circle cx="384" cy="219.8" r="1.2"/>
<circle cx="385.65" cy="220.95" r="1.2"/>
<circle cx="384" cy="224.03" r="1.2"/>
<circle cx="384" cy="228.01" r="1.2"/>
<circle cx="384" cy="233.66" r="1.2"/>
<circle cx="384" cy="238.15" r="1.2"/>
<circle cx="384" cy="244.44" r="1.2"/>
<circle cx="384" cy="246.23" r="1.2"/>
<circle cx="384" cy="248.16" r="1.2"/>
<circle cx="384" cy="250.08" r="1.2"/>
<circle cx="385.65" cy="251.37" r="1.2"/>
<circle cx="384" cy="252.91" r="1.2"/>
<circle cx="384.55" cy="254.58" r="1.2"/>
<circle cx="384" cy="256.24" r="1.2"/>
<circle cx="385.65" cy="257.35" r="1.2"/>
<circle cx="382.9" cy="257.58" r="1.2"/>
<circle cx="380.7" cy="257.7" r="1.2"/>
<circle cx="384" cy="258.97" r="1.2"/>
<circle cx="386.2" cy="259.14" r="1.2"/>
<circle cx="381.8" cy="259.22" r="1.2"/>
<circle cx="387.85" cy="259.67" r="1.2"/>
<circle cx="380.15" cy="259.96" r="1.2"/>
<circle cx="385.1" cy="260.58" r="1.2"/>
<circle cx="382.9" cy="260.95" r="1.2"/>
<circle cx="382.17" cy="261.05" r="1.2"/>
<circle cx="386.75" cy="261.29" r="1.2"/>
<circle cx="380.15" cy="261.88" r="1.2"/>
<circle cx="384" cy="263.24" r="1.2"/>
<circle cx="386.2" cy="263.72" r="1.2"/>
<circle cx="381.8" cy="263.73" r="1.2"/>
<circle cx="387.85" cy="264.61" r="1.2"/>
<circle cx="380.15" cy="264.83" r="1.2"/>
<circle cx="384" cy="265.62" r="1.2"/>
<circle cx="386.2" cy="265.9" r="1.2"/>
<circle cx="381.8" cy="266.11" r="1.2"/>
<circle cx="387.6" cy="266.12" r="1.2"/>
<circle cx="380.15" cy="266.66" r="1.2"/>
<circle cx="382.09" cy="266.67" r="1.2"/>
<circle cx="386.96" cy="267.02" r="1.2"/>
<circle cx="380.78" cy="267.04" r="1.2"/>
<circle cx="387" cy="267.11" r="1.2"/>
<circle cx="383.32" cy="267.15" r="1.2"/>
<circle cx="385.1" cy="267.28" r="1.2"/>
<circle cx="384.13" cy="267.88" r="1.2"/>
<circle cx="387.08" cy="268.29" r="1.2"/>
<circle cx="381.8" cy="268.49" r="1.2"/>
<circle cx="385.21" cy="268.88" r="1.2"/>
<circle cx="385.9" cy="268.91" r="1.2"/>
<circle cx="380.15" cy="269.1" r="1.2"/>
<circle cx="383.45" cy="269.77" r="1.2"/>
<circle cx="387.85" cy="269.97" r="1.2"/>
<circle cx="385.1" cy="270.85" r="1.2"/>
<circle cx="381.8" cy="271.01" r="1.2"/>
<circle cx="381.28" cy="271.01" r="1.2"/>
<circle cx="386.75" cy="271.52" r="1.2"/>
<circle cx="384" cy="272.33" r="1.2"/>
<circle cx="380.15" cy="272.34" r="1.2"/>
<circle cx="381.43" cy="272.71" r="1.2"/>
<circle cx="382.36" cy="272.79" r="1.2"/>
<circle cx="385.65" cy="272.92" r="1.2"/>
<circle cx="387.85" cy="272.95" r="1.2"/>
<circle cx="381.67" cy="273.01" r="1.2"/>
<circle cx="384" cy="275.11" r="1.2"/>
<circle cx="386.2" cy="275.37" r="1.2"/>
<circle cx="400.1" cy="201.32" r="1.2"/>
<circle cx="400.1" cy="212.87" r="1.2"/>
<circle cx="400.1" cy="220.57" r="1.2"/>
<circle cx="400.1" cy="230.45" r="1.2"/>
<circle cx="400.1" cy="235.97" r="1.2"/>
<circle cx="401.75" cy="237.25" r="1.2"/>
<circle cx="400.1" cy="238.53" r="1.2"/>
<circle cx="401.75" cy="239.82" r="1.2"/>
<circle cx="400.1" cy="241.1" r="1.2"/>
<circle cx="401.75" cy="242.38" r="1.2"/>
<circle cx="400.1" cy="243.67" r="1.2"/>
<circle cx="401.2" cy="245.08" r="1.2"/>
<circle cx="400.1" cy="250.28" r="1.2"/>
<circle cx="402.3" cy="250.57" r="1.2"/>
<circle cx="399" cy="251.65" r="1.2"/>
<circle cx="396.8" cy="251.73" r="1.2"/>
<circle cx="401.2" cy="252.04" r="1.2"/>
<circle cx="403.4" cy="252.3" r="1.2"/>
<circle cx="397.34" cy="252.34" r="1.2"/>
<circle cx="399.55" cy="253.34" r="1.2"/>
<circle cx="401.75" cy="253.76" r="1.2"/>
<circle cx="400.1" cy="256.03" r="1.2"/>
<circle cx="402.3" cy="256.06" r="1.2"/>
<circle cx="398.45" cy="256.57" r="1.2"/>
<circle cx="403.95" cy="256.72" r="1.2"/>
<circle cx="400.1" cy="258.08" r="1.2"/>
<circle cx="402.3" cy="258.57" r="1.2"/>
<circle cx="398.45" cy="258.64" r="1.2"/>
<circle cx="396.25" cy="258.65" r="1.2"/>
<circle cx="397.51" cy="258.71" r="1.2"/>
<circle cx="403.95" cy="259.43" r="1.2"/>
<circle cx="400.86" cy="259.44" r="1.2"/>
<circle cx="396.46" cy="260.05" r="1.2"/>
<circle cx="399.55" cy="260.77" r="1.2"/>
<circle cx="401.2" cy="261.5" r="1.2"/>
<circle cx="399.55" cy="262.73" r="1.2"/>
<circle cx="402.85" cy="262.78" r="1.2"/>
<circle cx="397.35" cy="262.89" r="1.2"/>
<circle cx="402.24" cy="263.04" r="1.2"/>
<circle cx="398.83" cy="263.33" r="1.2"/>
<circle cx="400.65" cy="264.3" r="1.2"/>
<circle cx="403.95" cy="264.36" r="1.2"/>
<circle cx="397.35" cy="264.65" r="1.2"/>
<circle cx="400.1" cy="264.71" r="1.2"/>
<circle cx="402.3" cy="265.06" r="1.2"/>
<circle cx="400.1" cy="267.74" r="1.2"/>
<circle cx="401.2" cy="269.07" r="1.2"/>
<circle cx="399.55" cy="269.65" r="1.2"/>
<circle cx="402.85" cy="269.86" r="1.2"/>
<circle cx="397.9" cy="270.34" r="1.2"/>
<circle cx="368.2" cy="245.1" r="1.2"/>
<circle cx="368.6" cy="268.1" r="1.2"/>
<circle cx="367.1" cy="269.8" r="1.2"/>
<circle cx="368.2" cy="271" r="1.2"/>
<circle cx="365.1" cy="273" r="1.2"/>
<circle cx="368.2" cy="273" r="1.2"/>
<circle cx="371.4" cy="273" r="1.2"/>
<circle cx="364.7" cy="274.9" r="1.2"/>
<circle cx="366.7" cy="275.3" r="1.2"/>
<circle cx="369.8" cy="275.3" r="1.2"/>
<circle cx="371.8" cy="274.9" r="1.2"/>
</g>
<text x="330.75" y="234.25" font-size="9.5" text-anchor="middle" textLength="76" lengthAdjust="spacingAndGlyphs" transform="rotate(-90 330.75 234.25)">Concentration (pg/mL)</text>
<text x="371.5" y="286.35" font-size="7.5" text-anchor="end" textLength="30.6" lengthAdjust="spacingAndGlyphs" transform="rotate(-45 371.5 286.35)">Baseline</text>
<text x="387.4" y="286.35" font-size="7.5" text-anchor="end" transform="rotate(-45 387.4 286.35)">No CRS</text>
<text x="403.5" y="286.35" font-size="7.5" text-anchor="end" transform="rotate(-45 403.5 286.35)">CRS</text>
<path d="M384.3 196.9V193.4H400.7V196.9" stroke="#2a2a2a" stroke-width="1.1" fill="none"/>
<circle cx="392.5" cy="189.5" r="1.05" fill="#222"/>
<text x="430.5" y="172" font-size="11.5" text-anchor="start" font-weight="bold" fill="#000" class="lt">J</text>
<text x="486.65" y="184.7" font-size="8" text-anchor="middle" textLength="22.6" lengthAdjust="spacingAndGlyphs">IL-17A</text>
<rect x="465.6" y="271.55" width="9" height="4.2" fill="#8f98c6"/>
<rect x="481.5" y="260.75" width="9" height="15" fill="#8f98c6"/>
<rect x="497.6" y="257.95" width="9" height="17.8" fill="#8f98c6"/>
<path d="M459.9 193.25V275.75H512.5" stroke="#1a1a1a" stroke-width="1.35" fill="none"/>
<path d="M455.9 275.75H459.9M455.9 255.75H459.9M455.9 235.75H459.9M455.9 215.75H459.9M455.9 195.75H459.9M470.1 275.75V279.75M486 275.75V279.75M502.1 275.75V279.75" stroke="#1a1a1a" stroke-width="1.15" fill="none"/>
<text x="451.9" y="278.35" font-size="7.5" text-anchor="end" class="tk">0</text>
<text x="451.9" y="258.35" font-size="7.5" text-anchor="end" class="tk">10</text>
<text x="451.9" y="238.35" font-size="7.5" text-anchor="end" class="tk">20</text>
<text x="451.9" y="218.35" font-size="7.5" text-anchor="end" class="tk">30</text>
<text x="451.9" y="198.35" font-size="7.5" text-anchor="end" class="tk">40</text>
<path d="M470.1 271.55V262.35M467.7 262.35h4.8" stroke="#1a1a1a" stroke-width="1" fill="none"/>
<path d="M486 260.75V248.15M483.6 248.15h4.8" stroke="#1a1a1a" stroke-width="1" fill="none"/>
<path d="M502.1 257.95V244.35M499.7 244.35h4.8" stroke="#1a1a1a" stroke-width="1" fill="none"/>
<g fill="#1c3d82">
<circle cx="486" cy="220.15" r="1.2"/>
<circle cx="486" cy="227.95" r="1.2"/>
<circle cx="486" cy="235.95" r="1.2"/>
<circle cx="487.1" cy="237.35" r="1.2"/>
<circle cx="486" cy="242.95" r="1.2"/>
<circle cx="487.1" cy="244.35" r="1.2"/>
<circle cx="486" cy="249.35" r="1.2"/>
<circle cx="487.65" cy="250.55" r="1.2"/>
<circle cx="486" cy="251.75" r="1.2"/>
<circle cx="487.65" cy="252.95" r="1.2"/>
<circle cx="486" cy="254.15" r="1.2"/>
<circle cx="487.65" cy="255.35" r="1.2"/>
<circle cx="486" cy="256.55" r="1.2"/>
<circle cx="487.65" cy="257.75" r="1.2"/>
<circle cx="486" cy="258.95" r="1.2"/>
<circle cx="487.65" cy="260.15" r="1.2"/>
<circle cx="486" cy="261.29" r="1.2"/>
<circle cx="483.8" cy="261.32" r="1.2"/>
<circle cx="489.3" cy="261.46" r="1.2"/>
<circle cx="483.58" cy="261.48" r="1.2"/>
<circle cx="482.14" cy="261.59" r="1.2"/>
<circle cx="487.65" cy="262.02" r="1.2"/>
<circle cx="489.17" cy="262.59" r="1.2"/>
<circle cx="484.9" cy="262.7" r="1.2"/>
<circle cx="488.07" cy="263.02" r="1.2"/>
<circle cx="483.25" cy="263.27" r="1.2"/>
<circle cx="482.12" cy="263.36" r="1.2"/>
<circle cx="482.84" cy="263.85" r="1.2"/>
<circle cx="486" cy="264.14" r="1.2"/>
<circle cx="487.65" cy="265.15" r="1.2"/>
<circle cx="484.35" cy="265.36" r="1.2"/>
<circle cx="489.3" cy="265.72" r="1.2"/>
<circle cx="482.15" cy="265.76" r="1.2"/>
<circle cx="486" cy="266.61" r="1.2"/>
<circle cx="487.27" cy="266.62" r="1.2"/>
<circle cx="482.23" cy="266.65" r="1.2"/>
<circle cx="484.03" cy="266.94" r="1.2"/>
<circle cx="488.91" cy="267.06" r="1.2"/>
<circle cx="483.21" cy="267.13" r="1.2"/>
<circle cx="482.16" cy="267.13" r="1.2"/>
<circle cx="485.46" cy="267.28" r="1.2"/>
<circle cx="486.85" cy="267.55" r="1.2"/>
<circle cx="489.61" cy="267.82" r="1.2"/>
<circle cx="487.02" cy="267.83" r="1.2"/>
<circle cx="484.85" cy="268.01" r="1.2"/>
<circle cx="488.46" cy="268.34" r="1.2"/>
<circle cx="483.25" cy="269.29" r="1.2"/>
<circle cx="486" cy="269.88" r="1.2"/>
<circle cx="489.3" cy="270" r="1.2"/>
<circle cx="488.32" cy="270.39" r="1.2"/>
<circle cx="482.57" cy="270.53" r="1.2"/>
<circle cx="484.35" cy="270.78" r="1.2"/>
<circle cx="487.83" cy="271.1" r="1.2"/>
<circle cx="482.15" cy="271.38" r="1.2"/>
<circle cx="486" cy="272.57" r="1.2"/>
<circle cx="487.65" cy="273.9" r="1.2"/>
<circle cx="484.9" cy="274.11" r="1.2"/>
<circle cx="482.7" cy="274.37" r="1.2"/>
<circle cx="489.3" cy="274.73" r="1.2"/>
<circle cx="485.77" cy="275.11" r="1.2"/>
<circle cx="488.31" cy="275.15" r="1.2"/>
<circle cx="482.99" cy="275.47" r="1.2"/>
<circle cx="484.61" cy="275.47" r="1.2"/>
<circle cx="489.16" cy="275.48" r="1.2"/>
<circle cx="502.1" cy="223.95" r="1.2"/>
<circle cx="502.1" cy="225.75" r="1.2"/>
<circle cx="502.1" cy="237.35" r="1.2"/>
<circle cx="502.1" cy="246.55" r="1.2"/>
<circle cx="503.75" cy="247.15" r="1.2"/>
<circle cx="502.1" cy="250.75" r="1.2"/>
<circle cx="504.3" cy="250.75" r="1.2"/>
<circle cx="500.45" cy="251.75" r="1.2"/>
<circle cx="503.2" cy="252.21" r="1.2"/>
<circle cx="505.4" cy="252.34" r="1.2"/>
<circle cx="498.8" cy="252.45" r="1.2"/>
<circle cx="501.55" cy="253.28" r="1.2"/>
<circle cx="503.75" cy="253.88" r="1.2"/>
<circle cx="499.9" cy="254.09" r="1.2"/>
<circle cx="502.1" cy="255.01" r="1.2"/>
<circle cx="503.75" cy="255.75" r="1.2"/>
<circle cx="500.45" cy="256.21" r="1.2"/>
<circle cx="505.4" cy="256.56" r="1.2"/>
<circle cx="502.1" cy="257" r="1.2"/>
<circle cx="498.8" cy="257.29" r="1.2"/>
<circle cx="503.75" cy="257.84" r="1.2"/>
<circle cx="502.1" cy="259.55" r="1.2"/>
<circle cx="504.3" cy="259.78" r="1.2"/>
<circle cx="499.9" cy="259.96" r="1.2"/>
<circle cx="503.2" cy="261.12" r="1.2"/>
<circle cx="501.55" cy="261.69" r="1.2"/>
<circle cx="504.85" cy="261.71" r="1.2"/>
<circle cx="499.9" cy="262.57" r="1.2"/>
<circle cx="502.43" cy="262.8" r="1.2"/>
<circle cx="505.33" cy="262.85" r="1.2"/>
<circle cx="498.25" cy="263.64" r="1.2"/>
<circle cx="501" cy="263.99" r="1.2"/>
<circle cx="503.75" cy="264.17" r="1.2"/>
<circle cx="502.1" cy="265.45" r="1.2"/>
<circle cx="503.75" cy="266.65" r="1.2"/>
<circle cx="501" cy="266.94" r="1.2"/>
<circle cx="505.4" cy="267.38" r="1.2"/>
<circle cx="499.35" cy="267.55" r="1.2"/>
<circle cx="502.65" cy="268.23" r="1.2"/>
<circle cx="501" cy="269" r="1.2"/>
<circle cx="504.3" cy="269.19" r="1.2"/>
<circle cx="498.8" cy="269.36" r="1.2"/>
<circle cx="502.11" cy="269.66" r="1.2"/>
<circle cx="505.95" cy="269.78" r="1.2"/>
<circle cx="498.44" cy="270" r="1.2"/>
<circle cx="502.37" cy="270.2" r="1.2"/>
<circle cx="504.65" cy="270.56" r="1.2"/>
<circle cx="501" cy="271.53" r="1.2"/>
<circle cx="504.87" cy="271.64" r="1.2"/>
<circle cx="470.4" cy="247.9" r="1.2"/>
<circle cx="470.4" cy="265.1" r="1.2"/>
<circle cx="470.4" cy="268.9" r="1.2"/>
<circle cx="466.2" cy="271" r="1.2"/>
<circle cx="469" cy="272.8" r="1.2"/>
<circle cx="471.5" cy="273.1" r="1.2"/>
<circle cx="466.9" cy="274.9" r="1.2"/>
<circle cx="469.7" cy="275.3" r="1.2"/>
<circle cx="472.5" cy="274.9" r="1.2"/>
<circle cx="474.6" cy="275.3" r="1.2"/>
</g>
<text x="436.75" y="234.25" font-size="9.5" text-anchor="middle" textLength="76" lengthAdjust="spacingAndGlyphs" transform="rotate(-90 436.75 234.25)">Concentration (pg/mL)</text>
<text x="473.5" y="286.35" font-size="7.5" text-anchor="end" textLength="30.6" lengthAdjust="spacingAndGlyphs" transform="rotate(-45 473.5 286.35)">Baseline</text>
<text x="489.4" y="286.35" font-size="7.5" text-anchor="end" transform="rotate(-45 489.4 286.35)">No CRS</text>
<text x="505.5" y="286.35" font-size="7.5" text-anchor="end" transform="rotate(-45 505.5 286.35)">CRS</text>
<path d="M485.5 209.8V206.3H502.5V209.8" stroke="#2a2a2a" stroke-width="1.1" fill="none"/>
<text x="494" y="202.5" font-size="6.9" text-anchor="middle" textLength="6.6" lengthAdjust="spacingAndGlyphs">ns</text>
<text x="17.6" y="328.2" font-size="11.5" text-anchor="start" font-weight="bold" fill="#000" class="lt">K</text>
<text x="87.35" y="340.9" font-size="8" text-anchor="middle" textLength="14.7" lengthAdjust="spacingAndGlyphs">CRP</text>
<rect x="79.4" y="430.6" width="15" height="6.15" fill="#d49e95"/>
<rect x="103.4" y="422.57" width="15" height="14.18" fill="#d49e95"/>
<path d="M47.65 354V436.75H127.3" stroke="#1a1a1a" stroke-width="1.35" fill="none"/>
<path d="M43.65 436.75H47.65M43.65 410H47.65M43.65 383.25H47.65M43.65 356.5H47.65M62.9 436.75V440.75M86.9 436.75V440.75M110.9 436.75V440.75" stroke="#1a1a1a" stroke-width="1.15" fill="none"/>
<text x="39.65" y="439.35" font-size="7.5" text-anchor="end" class="tk">0</text>
<text x="39.65" y="412.6" font-size="7.5" text-anchor="end" class="tk">10</text>
<text x="39.65" y="385.85" font-size="7.5" text-anchor="end" class="tk">20</text>
<text x="39.65" y="359.1" font-size="7.5" text-anchor="end" class="tk">30</text>
<path d="M86.9 430.6V419.1M83.1 419.1h7.6" stroke="#b1002c" stroke-width="1" fill="none"/>
<path d="M110.9 422.57V404.92M107.1 404.92h7.6" stroke="#b1002c" stroke-width="1" fill="none"/>
<g fill="#b1002c">
<circle cx="86.9" cy="388.87" r="1.2"/>
<circle cx="86.9" cy="390.74" r="1.2"/>
<circle cx="86.9" cy="392.61" r="1.2"/>
<circle cx="86.9" cy="394.75" r="1.2"/>
<circle cx="86.9" cy="403.31" r="1.2"/>
<circle cx="87.45" cy="404.65" r="1.2"/>
<circle cx="86.9" cy="409.73" r="1.2"/>
<circle cx="86.9" cy="412.94" r="1.2"/>
<circle cx="86.9" cy="414.61" r="1.2"/>
<circle cx="88" cy="415.82" r="1.2"/>
<circle cx="86.9" cy="417.02" r="1.2"/>
<circle cx="88" cy="418.23" r="1.2"/>
<circle cx="86.9" cy="419.43" r="1.2"/>
<circle cx="88" cy="420.63" r="1.2"/>
<circle cx="86.9" cy="421.84" r="1.2"/>
<circle cx="88" cy="423.04" r="1.2"/>
<circle cx="86.9" cy="424.24" r="1.2"/>
<circle cx="88" cy="425.45" r="1.2"/>
<circle cx="86.9" cy="426.65" r="1.2"/>
<circle cx="88" cy="427.86" r="1.2"/>
<circle cx="86.9" cy="429.06" r="1.2"/>
<circle cx="88" cy="430.26" r="1.2"/>
<circle cx="86.9" cy="431.4" r="1.2"/>
<circle cx="88.55" cy="431.88" r="1.2"/>
<circle cx="85.25" cy="432.18" r="1.2"/>
<circle cx="90.2" cy="432.3" r="1.2"/>
<circle cx="83.6" cy="432.36" r="1.2"/>
<circle cx="86.9" cy="432.85" r="1.2"/>
<circle cx="87.45" cy="434.28" r="1.2"/>
<circle cx="85.8" cy="434.74" r="1.2"/>
<circle cx="89.1" cy="435.03" r="1.2"/>
<circle cx="84.15" cy="435.18" r="1.2"/>
<circle cx="90.75" cy="435.33" r="1.2"/>
<circle cx="82.5" cy="435.34" r="1.2"/>
<circle cx="92.4" cy="435.45" r="1.2"/>
<circle cx="80.85" cy="435.59" r="1.2"/>
<circle cx="86.9" cy="436.3" r="1.2"/>
<circle cx="85.25" cy="436.31" r="1.2"/>
<circle cx="88.55" cy="436.39" r="1.2"/>
<circle cx="93.5" cy="436.42" r="1.2"/>
<circle cx="81.88" cy="436.43" r="1.2"/>
<circle cx="83.6" cy="436.6" r="1.2"/>
<circle cx="91.41" cy="436.63" r="1.2"/>
<circle cx="85.07" cy="436.69" r="1.2"/>
<circle cx="90.24" cy="436.69" r="1.2"/>
<circle cx="89.18" cy="436.75" r="1.2"/>
<circle cx="110.9" cy="367.47" r="1.2"/>
<circle cx="110.9" cy="372.01" r="1.2"/>
<circle cx="110.9" cy="379.24" r="1.2"/>
<circle cx="110.9" cy="392.08" r="1.2"/>
<circle cx="110.9" cy="394.75" r="1.2"/>
<circle cx="110.9" cy="400.64" r="1.2"/>
<circle cx="110.9" cy="402.54" r="1.2"/>
<circle cx="112" cy="403.68" r="1.2"/>
<circle cx="110.9" cy="404.82" r="1.2"/>
<circle cx="112" cy="405.95" r="1.2"/>
<circle cx="110.9" cy="407.09" r="1.2"/>
<circle cx="112" cy="408.23" r="1.2"/>
<circle cx="110.9" cy="409.36" r="1.2"/>
<circle cx="112" cy="410.5" r="1.2"/>
<circle cx="110.9" cy="411.64" r="1.2"/>
<circle cx="112" cy="412.78" r="1.2"/>
<circle cx="110.9" cy="413.91" r="1.2"/>
<circle cx="112" cy="415.05" r="1.2"/>
<circle cx="110.9" cy="416.19" r="1.2"/>
<circle cx="112" cy="417.32" r="1.2"/>
<circle cx="110.9" cy="418.46" r="1.2"/>
<circle cx="112" cy="419.6" r="1.2"/>
<circle cx="110.9" cy="420.73" r="1.2"/>
<circle cx="112" cy="421.87" r="1.2"/>
<circle cx="110.9" cy="423.01" r="1.2"/>
<circle cx="112" cy="424.14" r="1.2"/>
<circle cx="110.35" cy="424.99" r="1.2"/>
<circle cx="112.55" cy="425.55" r="1.2"/>
<circle cx="109.25" cy="426.11" r="1.2"/>
<circle cx="110.9" cy="426.66" r="1.2"/>
<circle cx="112.55" cy="427.22" r="1.2"/>
<circle cx="109.8" cy="427.78" r="1.2"/>
<circle cx="111.45" cy="428.33" r="1.2"/>
<circle cx="113.1" cy="428.89" r="1.2"/>
<circle cx="110.35" cy="429.45" r="1.2"/>
<circle cx="112" cy="430.01" r="1.2"/>
<circle cx="109.25" cy="430.56" r="1.2"/>
<circle cx="110.9" cy="431.12" r="1.2"/>
<circle cx="112.55" cy="431.55" r="1.2"/>
<circle cx="108.15" cy="431.87" r="1.2"/>
<circle cx="114.2" cy="431.95" r="1.2"/>
<circle cx="110.9" cy="432.74" r="1.2"/>
<circle cx="109.25" cy="432.83" r="1.2"/>
<circle cx="107.05" cy="432.85" r="1.2"/>
<circle cx="112.55" cy="433.01" r="1.2"/>
<circle cx="114.75" cy="433.33" r="1.2"/>
<circle cx="116.4" cy="433.35" r="1.2"/>
<circle cx="105.4" cy="433.52" r="1.2"/>
<circle cx="104.8" cy="433.64" r="1.2"/>
<circle cx="108.15" cy="433.85" r="1.2"/>
<circle cx="108.89" cy="433.86" r="1.2"/>
<circle cx="104.98" cy="433.91" r="1.2"/>
<circle cx="116.54" cy="433.95" r="1.2"/>
<circle cx="111.45" cy="434.11" r="1.2"/>
<circle cx="113.65" cy="434.3" r="1.2"/>
<circle cx="106.5" cy="434.64" r="1.2"/>
<circle cx="109.8" cy="434.99" r="1.2"/>
<circle cx="115.3" cy="435.1" r="1.2"/>
<circle cx="110.9" cy="436.07" r="1.2"/>
<circle cx="112.55" cy="436.21" r="1.2"/>
<circle cx="108.7" cy="436.24" r="1.2"/>
<circle cx="114.2" cy="436.35" r="1.2"/>
<circle cx="107.05" cy="436.51" r="1.2"/>
<circle cx="115.85" cy="436.52" r="1.2"/>
</g>
<text x="25.5" y="395.12" font-size="9.5" text-anchor="middle" textLength="76" lengthAdjust="spacingAndGlyphs" transform="rotate(-90 25.5 395.12)">Concentration (mg/dL)</text>
<text x="66.3" y="447.35" font-size="7.5" text-anchor="end" textLength="30.6" lengthAdjust="spacingAndGlyphs" transform="rotate(-45 66.3 447.35)">Baseline</text>
<text x="90.3" y="447.35" font-size="7.5" text-anchor="end" transform="rotate(-45 90.3 447.35)">No CRS</text>
<text x="114.3" y="447.35" font-size="7.5" text-anchor="end" transform="rotate(-45 114.3 447.35)">CRS</text>
<path d="M86.8 362V358.5H110.6V362" stroke="#2a2a2a" stroke-width="1.1" fill="none"/>
<circle cx="95.15" cy="354.6" r="1.05" fill="#222"/>
<circle cx="98.7" cy="354.6" r="1.05" fill="#222"/>
<circle cx="102.25" cy="354.6" r="1.05" fill="#222"/>
<text x="54.9" y="425.5" font-size="8" text-anchor="start" letter-spacing="0.4">N/A</text>
<text x="133" y="328.2" font-size="11.5" text-anchor="start" font-weight="bold" fill="#000" class="lt">L</text>
<text x="220.7" y="340.6" font-size="8" text-anchor="middle" textLength="25.1" lengthAdjust="spacingAndGlyphs">Ferritin</text>
<rect x="213.1" y="405.45" width="15" height="31.3" fill="#d49e95"/>
<rect x="236.8" y="401" width="15" height="35.75" fill="#d49e95"/>
<path d="M180.3 354V436.75H260.8" stroke="#1a1a1a" stroke-width="1.35" fill="none"/>
<path d="M176.3 436.75H180.3M176.3 410H180.3M176.3 383.25H180.3M176.3 356.5H180.3M196.8 436.75V440.75M220.6 436.75V440.75M244.3 436.75V440.75" stroke="#1a1a1a" stroke-width="1.15" fill="none"/>
<text x="172.3" y="439.35" font-size="7.5" text-anchor="end" class="tk">100</text>
<text x="172.3" y="412.6" font-size="7.5" text-anchor="end" class="tk">1000</text>
<text x="172.3" y="385.85" font-size="7.5" text-anchor="end" class="tk">10000</text>
<text x="172.3" y="359.1" font-size="7.5" text-anchor="end" class="tk">100000</text>
<path d="M244.3 401V391.78M241 391.78h6.6" stroke="#b1002c" stroke-width="1" fill="none"/>
<g fill="#b1002c">
<circle cx="220.6" cy="424.79" r="1.2"/>
<circle cx="220.6" cy="427.07" r="1.2"/>
<circle cx="220.6" cy="429.29" r="1.2"/>
<circle cx="244.3" cy="379.42" r="1.2"/>
<circle cx="246.5" cy="380.2" r="1.2"/>
<circle cx="244.3" cy="388.43" r="1.2"/>
<circle cx="244.3" cy="394.8" r="1.2"/>
<circle cx="246.5" cy="395.78" r="1.2"/>
<circle cx="244.3" cy="396.86" r="1.2"/>
<circle cx="244.3" cy="399.04" r="1.2"/>
<circle cx="246.5" cy="399.12" r="1.2"/>
<circle cx="242.1" cy="399.38" r="1.2"/>
<circle cx="248.7" cy="399.56" r="1.2"/>
<circle cx="239.9" cy="399.68" r="1.2"/>
<circle cx="250.9" cy="399.74" r="1.2"/>
<circle cx="237.7" cy="400.09" r="1.2"/>
<circle cx="243.33" cy="400.17" r="1.2"/>
<circle cx="245.4" cy="401.26" r="1.2"/>
<circle cx="242.1" cy="401.85" r="1.2"/>
<circle cx="247.6" cy="401.97" r="1.2"/>
<circle cx="239.9" cy="402.02" r="1.2"/>
<circle cx="249.8" cy="402.11" r="1.2"/>
<circle cx="237.7" cy="402.76" r="1.2"/>
<circle cx="244.3" cy="403.77" r="1.2"/>
<circle cx="246.5" cy="404" r="1.2"/>
<circle cx="242.1" cy="404.08" r="1.2"/>
<circle cx="248.7" cy="404.33" r="1.2"/>
<circle cx="239.9" cy="404.44" r="1.2"/>
<circle cx="250.9" cy="404.56" r="1.2"/>
<circle cx="250.9" cy="404.62" r="1.2"/>
<circle cx="246.46" cy="404.64" r="1.2"/>
<circle cx="237.7" cy="404.9" r="1.2"/>
<circle cx="246.19" cy="404.99" r="1.2"/>
<circle cx="243.04" cy="405.61" r="1.2"/>
<circle cx="243.01" cy="405.73" r="1.2"/>
<circle cx="244.3" cy="408.17" r="1.2"/>
<circle cx="246.5" cy="408.3" r="1.2"/>
<circle cx="242.1" cy="408.57" r="1.2"/>
<circle cx="248.7" cy="409.07" r="1.2"/>
<circle cx="239.9" cy="409.07" r="1.2"/>
<circle cx="250.9" cy="409.75" r="1.2"/>
<circle cx="244.3" cy="410.44" r="1.2"/>
<circle cx="246.5" cy="410.49" r="1.2"/>
<circle cx="242.1" cy="410.65" r="1.2"/>
<circle cx="248.7" cy="411.18" r="1.2"/>
<circle cx="239.9" cy="411.65" r="1.2"/>
<circle cx="250.9" cy="411.95" r="1.2"/>
<circle cx="237.7" cy="411.98" r="1.2"/>
<circle cx="249.48" cy="412.06" r="1.2"/>
<circle cx="245.4" cy="412.23" r="1.2"/>
<circle cx="242.67" cy="412.23" r="1.2"/>
<circle cx="249.69" cy="412.27" r="1.2"/>
<circle cx="249.98" cy="412.42" r="1.2"/>
<circle cx="247.6" cy="413" r="1.2"/>
<circle cx="238.51" cy="413.22" r="1.2"/>
<circle cx="241" cy="413.66" r="1.2"/>
<circle cx="246.31" cy="413.75" r="1.2"/>
<circle cx="244.3" cy="415.71" r="1.2"/>
<circle cx="246.5" cy="416.22" r="1.2"/>
<circle cx="243.2" cy="417.44" r="1.2"/>
<circle cx="241" cy="417.48" r="1.2"/>
<circle cx="248.15" cy="417.61" r="1.2"/>
<circle cx="244.3" cy="420.23" r="1.2"/>
<circle cx="244.3" cy="423.99" r="1.2"/>
<circle cx="245.95" cy="425.21" r="1.2"/>
<circle cx="244.3" cy="427.07" r="1.2"/>
<circle cx="245.95" cy="428.7" r="1.2"/>
<circle cx="244.3" cy="430.59" r="1.2"/>
<circle cx="245.95" cy="432.04" r="1.2"/>
<circle cx="244.3" cy="433.7" r="1.2"/>
<path d="M218.5 395.8 L222.8 395.8 L224.5 397 L225.6 398.5 L226.4 400 L226.4 403.5 L228.1 404.3 L228.2 406.9 L226.4 407.5 L226.2 410 L224.6 411 L224.2 413.5 L222.3 414.5 L221.4 417.2 L220.2 417.8 L219 417 L218.3 414.5 L216.8 413.5 L216.6 411 L215.2 410 L215 407.5 L213 406.9 L212.9 404.3 L214.9 403.5 L215 400 L215.4 398.2 L216.5 397 Z"/>
<circle cx="219.5" cy="396.2" r="1.2"/>
<circle cx="221.8" cy="396" r="1.2"/>
<circle cx="216.6" cy="397.6" r="1.2"/>
<circle cx="224.6" cy="397.8" r="1.2"/>
<circle cx="215.5" cy="400.5" r="1.2"/>
<circle cx="225.9" cy="400.6" r="1.2"/>
<circle cx="214" cy="404.8" r="1.2"/>
<circle cx="227.2" cy="404.8" r="1.2"/>
<circle cx="213.8" cy="406.2" r="1.2"/>
<circle cx="227.4" cy="406.3" r="1.2"/>
<circle cx="216.2" cy="409" r="1.2"/>
<circle cx="225.2" cy="409" r="1.2"/>
<circle cx="217.6" cy="412" r="1.2"/>
<circle cx="223.6" cy="412" r="1.2"/>
<circle cx="219.2" cy="415" r="1.2"/>
<circle cx="221.4" cy="415.2" r="1.2"/>
<circle cx="220.3" cy="416.8" r="1.2"/>
</g>
<text x="140" y="395.12" font-size="9.5" text-anchor="middle" textLength="76" lengthAdjust="spacingAndGlyphs" transform="rotate(-90 140 395.12)">Concentration (ng/mL)</text>
<text x="200.2" y="447.35" font-size="7.5" text-anchor="end" textLength="30.6" lengthAdjust="spacingAndGlyphs" transform="rotate(-45 200.2 447.35)">Baseline</text>
<text x="224" y="447.35" font-size="7.5" text-anchor="end" transform="rotate(-45 224 447.35)">No CRS</text>
<text x="247.7" y="447.35" font-size="7.5" text-anchor="end" transform="rotate(-45 247.7 447.35)">CRS</text>
<path d="M219.2 366.95V363.45H243.6V366.95" stroke="#2a2a2a" stroke-width="1.1" fill="none"/>
<text x="231.4" y="359.65" font-size="6.9" text-anchor="middle" textLength="6.6" lengthAdjust="spacingAndGlyphs">ns</text>
<text x="187.9" y="420.6" font-size="8" text-anchor="start" letter-spacing="0.4">N/A</text>
<text x="270.4" y="332.8" font-size="11.5" text-anchor="start" font-weight="bold" fill="#000" class="lt">M</text>
<text x="354.55" y="345.6" font-size="8" text-anchor="middle" textLength="13.6" lengthAdjust="spacingAndGlyphs">IL-6</text>
<rect x="322.5" y="413.53" width="16" height="23.22" fill="#bad6a2"/>
<rect x="348.4" y="398.6" width="16" height="38.15" fill="#bad6a2"/>
<rect x="374.3" y="378.3" width="16" height="58.45" fill="#bad6a2"/>
<rect x="400.4" y="400.83" width="16" height="35.92" fill="#bad6a2"/>
<path d="M313.75 358.75V436.75H425.5" stroke="#1a1a1a" stroke-width="1.35" fill="none"/>
<path d="M309.75 436.75H313.75M309.75 417.88H313.75M309.75 399H313.75M309.75 380.12H313.75M309.75 361.25H313.75M330.5 436.75V440.75M356.4 436.75V440.75M382.3 436.75V440.75M408.4 436.75V440.75" stroke="#1a1a1a" stroke-width="1.15" fill="none"/>
<text x="305.75" y="439.35" font-size="7.5" text-anchor="end" class="tk">1</text>
<text x="305.75" y="420.48" font-size="7.5" text-anchor="end" class="tk">10</text>
<text x="305.75" y="401.6" font-size="7.5" text-anchor="end" class="tk">100</text>
<text x="305.75" y="382.73" font-size="7.5" text-anchor="end" class="tk">1000</text>
<text x="305.75" y="363.85" font-size="7.5" text-anchor="end" class="tk">10000</text>
<path d="M330.5 417.48V408.34M326.1 408.34h8.8M326.1 417.48h8.8" stroke="#5faa3c" stroke-width="1" fill="none"/>
<path d="M356.4 400.33V397.17M352 397.17h8.8M352 400.33h8.8" stroke="#5faa3c" stroke-width="1" fill="none"/>
<path d="M382.3 408.34V371.98M377.9 371.98h8.8M377.9 408.34h8.8" stroke="#5faa3c" stroke-width="1" fill="none"/>
<path d="M408.4 403.19V399M404 399h8.8M404 403.19h8.8" stroke="#5faa3c" stroke-width="1" fill="none"/>
<g fill="#5faa3c">
<circle cx="330.5" cy="408.3" r="1.2"/>
<circle cx="328.1" cy="412.7" r="1.2"/>
<circle cx="332.9" cy="414.1" r="1.2"/>
<circle cx="330.5" cy="416.8" r="1.2"/>
<circle cx="349.1" cy="398.8" r="1.2"/>
<circle cx="352.8" cy="397.1" r="1.2"/>
<circle cx="356.4" cy="397.4" r="1.2"/>
<circle cx="360.1" cy="397.5" r="1.2"/>
<circle cx="363.7" cy="398.8" r="1.2"/>
<circle cx="352.8" cy="401.2" r="1.2"/>
<circle cx="356.4" cy="400.3" r="1.2"/>
<circle cx="359.4" cy="400.7" r="1.2"/>
<circle cx="352.8" cy="402.9" r="1.2"/>
<circle cx="380.3" cy="369.3" r="1.2"/>
<circle cx="384.6" cy="370" r="1.2"/>
<circle cx="377.6" cy="375.9" r="1.2"/>
<circle cx="382.3" cy="374.9" r="1.2"/>
<circle cx="386.7" cy="373.4" r="1.2"/>
<circle cx="382.3" cy="377.4" r="1.2"/>
<circle cx="382.3" cy="381" r="1.2"/>
<circle cx="380.3" cy="392.7" r="1.2"/>
<circle cx="384.6" cy="393.4" r="1.2"/>
<circle cx="382.3" cy="397.8" r="1.2"/>
<circle cx="380.3" cy="400.7" r="1.2"/>
<circle cx="384.6" cy="400.7" r="1.2"/>
<circle cx="401" cy="396.4" r="1.2"/>
<circle cx="401" cy="398.5" r="1.2"/>
<circle cx="404.7" cy="397.8" r="1.2"/>
<circle cx="408.3" cy="397.8" r="1.2"/>
<circle cx="412" cy="397.8" r="1.2"/>
<circle cx="415.6" cy="396.4" r="1.2"/>
<circle cx="401" cy="402.2" r="1.2"/>
<circle cx="404.7" cy="400.7" r="1.2"/>
<circle cx="408.3" cy="400.3" r="1.2"/>
<circle cx="412" cy="400.3" r="1.2"/>
<circle cx="415.6" cy="400" r="1.2"/>
<circle cx="404.7" cy="403.7" r="1.2"/>
<circle cx="408.3" cy="403.7" r="1.2"/>
<circle cx="412" cy="402.9" r="1.2"/>
<circle cx="415.6" cy="404.1" r="1.2"/>
<circle cx="408.3" cy="405.9" r="1.2"/>
<circle cx="410.5" cy="405.1" r="1.2"/>
<circle cx="408.3" cy="409.1" r="1.2"/>
</g>
<text x="276.75" y="399" font-size="9.5" text-anchor="middle" textLength="79" lengthAdjust="spacingAndGlyphs" transform="rotate(-90 276.75 399)">Concentration (pg/mL)</text>
<text x="333.9" y="447.35" font-size="7.5" text-anchor="end" textLength="30.6" lengthAdjust="spacingAndGlyphs" transform="rotate(-45 333.9 447.35)">Baseline</text>
<text x="359.8" y="447.35" font-size="7.5" text-anchor="end" textLength="41.2" lengthAdjust="spacingAndGlyphs" transform="rotate(-45 359.8 447.35)">Before Toci</text>
<text x="385.7" y="447.35" font-size="7.5" text-anchor="end" textLength="28.2" lengthAdjust="spacingAndGlyphs" transform="rotate(-45 385.7 447.35)">On Toci</text>
<text x="411.8" y="447.35" font-size="7.5" text-anchor="end" textLength="34" lengthAdjust="spacingAndGlyphs" transform="rotate(-45 411.8 447.35)">After Toci</text>
<path d="M356.2 366.6V363.1H381.1V366.6" stroke="#2a2a2a" stroke-width="1.1" fill="none"/>
<circle cx="366.88" cy="359.2" r="1.05" fill="#222"/>
<circle cx="370.42" cy="359.2" r="1.05" fill="#222"/>
<path d="M383.35 366.6V363.1H408.8V366.6" stroke="#2a2a2a" stroke-width="1.1" fill="none"/>
<circle cx="392.53" cy="359.2" r="1.05" fill="#222"/>
<circle cx="396.08" cy="359.2" r="1.05" fill="#222"/>
<circle cx="399.63" cy="359.2" r="1.05" fill="#222"/>
<path d="M355.9 354.8V351.3H408.6V354.8" stroke="#2a2a2a" stroke-width="1.1" fill="none"/>
<text x="382.25" y="347.5" font-size="6.9" text-anchor="middle" textLength="6.6" lengthAdjust="spacingAndGlyphs">ns</text>
</svg>
</body></html>
